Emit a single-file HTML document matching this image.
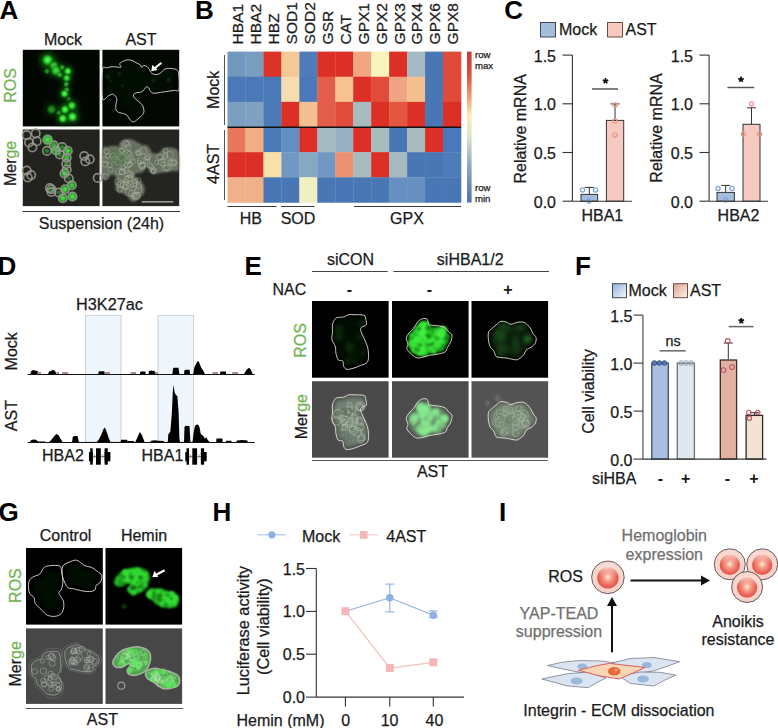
<!DOCTYPE html>
<html><head><meta charset="utf-8"><style>
html,body{margin:0;padding:0;background:#fff;}
svg{display:block;}
text{font-family:"Liberation Sans",sans-serif;}
</style></head><body>
<svg width="778" height="728" viewBox="0 0 778 728">
<defs>
<filter id="b1" x="-50%" y="-50%" width="200%" height="200%"><feGaussianBlur stdDeviation="1.2"/></filter>
<filter id="b2" x="-50%" y="-50%" width="200%" height="200%"><feGaussianBlur stdDeviation="2"/></filter>
<filter id="b3" x="-50%" y="-50%" width="200%" height="200%"><feGaussianBlur stdDeviation="3"/></filter>
<filter id="b05" x="-50%" y="-50%" width="200%" height="200%"><feGaussianBlur stdDeviation="0.6"/></filter>
<radialGradient id="gblob"><stop offset="0" stop-color="#66ff66"/><stop offset="0.45" stop-color="#2ed82e"/><stop offset="0.8" stop-color="#128a12" stop-opacity="0.7"/><stop offset="1" stop-color="#0a400a" stop-opacity="0"/></radialGradient>
<linearGradient id="cbar" x1="0" y1="0" x2="0" y2="1">
<stop offset="0" stop-color="#c83c3a"/><stop offset="0.15" stop-color="#dc4a3c"/><stop offset="0.3" stop-color="#f0a074"/><stop offset="0.43" stop-color="#f8f0b8"/><stop offset="0.56" stop-color="#dce6c8"/><stop offset="0.75" stop-color="#92aac2"/><stop offset="1" stop-color="#5272aa"/>
</linearGradient>
<linearGradient id="gmock" x1="0" y1="0" x2="1" y2="1"><stop offset="0.1" stop-color="#9ab8e0"/><stop offset="0.9" stop-color="#eaf2fa"/></linearGradient>
<linearGradient id="gast" x1="0" y1="0" x2="1" y2="1"><stop offset="0.1" stop-color="#e2ab98"/><stop offset="0.9" stop-color="#f8ebe2"/></linearGradient>
<radialGradient id="cell" cx="0.5" cy="0.5" r="0.55" fx="0.5" fy="0.45"><stop offset="0" stop-color="#fdecd4"/><stop offset="0.35" stop-color="#f49a86"/><stop offset="0.8" stop-color="#e95a50"/><stop offset="1" stop-color="#e65248"/></radialGradient>
<linearGradient id="celltop" x1="0" y1="0" x2="0" y2="1"><stop offset="0" stop-color="#fbe0d8" stop-opacity="0.85"/><stop offset="0.45" stop-color="#f6c0b0" stop-opacity="0"/></linearGradient>
<radialGradient id="ring" cx="0.5" cy="0.4" r="0.6"><stop offset="0" stop-color="#fbe4dc"/><stop offset="1" stop-color="#f6cfc6"/></radialGradient>
</defs>
<text x="-0.6" y="18.9" font-size="26" text-anchor="start" fill="#000" stroke="#000" stroke-width="0" font-weight="bold" >A</text>
<text x="194.9" y="18.9" font-size="26" text-anchor="start" fill="#000" stroke="#000" stroke-width="0" font-weight="bold" >B</text>
<text x="504.2" y="18.8" font-size="26" text-anchor="start" fill="#000" stroke="#000" stroke-width="0" font-weight="bold" >C</text>
<text x="-2.4" y="274.7" font-size="26" text-anchor="start" fill="#000" stroke="#000" stroke-width="0" font-weight="bold" >D</text>
<text x="244.4" y="275.1" font-size="26" text-anchor="start" fill="#000" stroke="#000" stroke-width="0" font-weight="bold" >E</text>
<text x="575.0" y="275.1" font-size="26" text-anchor="start" fill="#000" stroke="#000" stroke-width="0" font-weight="bold" >F</text>
<text x="-1.4" y="521.0" font-size="26" text-anchor="start" fill="#000" stroke="#000" stroke-width="0" font-weight="bold" >G</text>
<text x="212.5" y="520.9" font-size="26" text-anchor="start" fill="#000" stroke="#000" stroke-width="0" font-weight="bold" >H</text>
<text x="499.1" y="521.0" font-size="26" text-anchor="start" fill="#000" stroke="#000" stroke-width="0" font-weight="bold" >I</text>
<text x="63" y="44.5" font-size="16" text-anchor="middle" fill="#1a1a1a" stroke="#1a1a1a" stroke-width="0.25" font-weight="normal" >Mock</text>
<text x="141" y="44.5" font-size="16" text-anchor="middle" fill="#1a1a1a" stroke="#1a1a1a" stroke-width="0.25" font-weight="normal" >AST</text>
<text transform="translate(16.4,85.4) rotate(-90)" font-size="16" text-anchor="middle" fill="#70b452" stroke="#70b452" stroke-width="0.25" >ROS</text>
<text transform="translate(16.4,163.4) rotate(-90)" font-size="16" text-anchor="middle" fill="#1a1a1a" stroke="#1a1a1a" stroke-width="0.25" >Mer<tspan fill="#70b452" stroke="#70b452">ge</tspan></text>
<line x1="22.5" y1="211.5" x2="180" y2="211.5" stroke="#333" stroke-width="1"/>
<text x="101.5" y="229" font-size="16" text-anchor="middle" fill="#1a1a1a" stroke="#1a1a1a" stroke-width="0.25" font-weight="normal" >Suspension (24h)</text>
<rect x="22.8" y="49.8" width="76.8" height="76.6" fill="#020702"/>
<g filter="url(#b2)">
<circle cx="47.6" cy="60.0" r="8.8" fill="#0e5a0e" fill-opacity="0.70"/>
<circle cx="53.8" cy="65.6" r="7.2" fill="#0e5a0e" fill-opacity="0.52"/>
<circle cx="56.0" cy="70.6" r="8.0" fill="#0e5a0e" fill-opacity="0.56"/>
<circle cx="47.0" cy="71.19999999999999" r="4.5" fill="#0e5a0e" fill-opacity="0.35"/>
<circle cx="62.2" cy="67.3" r="4.5" fill="#0e5a0e" fill-opacity="0.39"/>
<circle cx="67.8" cy="71.19999999999999" r="6.1" fill="#0e5a0e" fill-opacity="0.70"/>
<circle cx="66.7" cy="78.0" r="6.1" fill="#0e5a0e" fill-opacity="0.59"/>
<circle cx="66.2" cy="84.19999999999999" r="4.5" fill="#0e5a0e" fill-opacity="0.42"/>
<circle cx="66.7" cy="89.8" r="4.5" fill="#0e5a0e" fill-opacity="0.42"/>
<circle cx="64.5" cy="93.69999999999999" r="6.1" fill="#0e5a0e" fill-opacity="0.70"/>
<circle cx="51.5" cy="109.5" r="7.2" fill="#0e5a0e" fill-opacity="0.35"/>
<circle cx="65.0" cy="109.5" r="6.9" fill="#0e5a0e" fill-opacity="0.70"/>
<circle cx="71.8" cy="105.6" r="6.9" fill="#0e5a0e" fill-opacity="0.63"/>
<circle cx="62.8" cy="118.5" r="6.9" fill="#0e5a0e" fill-opacity="0.70"/>
<circle cx="72.4" cy="116.8" r="7.7" fill="#0e5a0e" fill-opacity="0.70"/>
<circle cx="58.8" cy="112.8" r="4.0" fill="#0e5a0e" fill-opacity="0.32"/>
<circle cx="68.8" cy="98.8" r="4.0" fill="#0e5a0e" fill-opacity="0.24"/>
<circle cx="59.8" cy="74.8" r="4.8" fill="#0e5a0e" fill-opacity="0.39"/>
</g>
<circle cx="47.6" cy="60.0" r="6.3" fill="url(#gblob)" fill-opacity="1"/>
<circle cx="53.8" cy="65.6" r="5.2" fill="url(#gblob)" fill-opacity="0.75"/>
<circle cx="56.0" cy="70.6" r="5.8" fill="url(#gblob)" fill-opacity="0.8"/>
<circle cx="47.0" cy="71.19999999999999" r="3.2" fill="url(#gblob)" fill-opacity="0.5"/>
<circle cx="62.2" cy="67.3" r="3.2" fill="url(#gblob)" fill-opacity="0.55"/>
<circle cx="67.8" cy="71.19999999999999" r="4.4" fill="url(#gblob)" fill-opacity="1"/>
<circle cx="66.7" cy="78.0" r="4.4" fill="url(#gblob)" fill-opacity="0.85"/>
<circle cx="66.2" cy="84.19999999999999" r="3.2" fill="url(#gblob)" fill-opacity="0.6"/>
<circle cx="66.7" cy="89.8" r="3.2" fill="url(#gblob)" fill-opacity="0.6"/>
<circle cx="64.5" cy="93.69999999999999" r="4.4" fill="url(#gblob)" fill-opacity="1"/>
<circle cx="51.5" cy="109.5" r="5.2" fill="url(#gblob)" fill-opacity="0.5"/>
<circle cx="65.0" cy="109.5" r="4.9" fill="url(#gblob)" fill-opacity="1"/>
<circle cx="71.8" cy="105.6" r="4.9" fill="url(#gblob)" fill-opacity="0.9"/>
<circle cx="62.8" cy="118.5" r="4.9" fill="url(#gblob)" fill-opacity="1"/>
<circle cx="72.4" cy="116.8" r="5.5" fill="url(#gblob)" fill-opacity="1"/>
<circle cx="58.8" cy="112.8" r="2.9" fill="url(#gblob)" fill-opacity="0.45"/>
<circle cx="68.8" cy="98.8" r="2.9" fill="url(#gblob)" fill-opacity="0.35"/>
<circle cx="59.8" cy="74.8" r="3.4" fill="url(#gblob)" fill-opacity="0.55"/>
<rect x="102.4" y="49.8" width="76.8" height="76.6" fill="#030803"/>
<g filter="url(#b3)"><path d="M108.0,72.4 C108.6,68.1 110.1,71.0 111.7,70.5 C113.2,70.0 115.4,69.6 117.3,69.6 C119.3,69.5 122.8,70.5 123.6,70.1 C124.5,69.7 122.4,68.0 122.6,67.2 C122.8,66.4 124.0,65.8 125.0,65.2 C126.0,64.7 127.5,63.9 128.8,63.8 C130.2,63.6 131.7,63.8 133.2,64.3 C134.6,64.8 136.3,66.0 137.5,66.7 C138.7,67.3 139.8,67.5 140.4,68.1 C140.9,68.7 140.3,70.0 140.8,70.1 C141.3,70.2 142.4,68.7 143.3,68.6 C144.2,68.5 145.3,69.0 146.1,69.6 C146.9,70.1 147.6,71.1 148.0,71.9 C148.5,72.7 148.5,73.7 149.0,74.3 C149.5,75.0 150.0,75.4 150.9,75.8 C151.8,76.1 153.1,76.4 154.2,76.3 C155.3,76.1 156.5,75.6 157.6,74.8 C158.6,74.1 159.3,72.6 160.4,71.9 C161.6,71.3 162.8,71.1 164.3,71.0 C165.7,70.9 167.8,71.1 169.1,71.4 C170.4,71.7 171.3,72.0 171.9,72.9 C172.6,73.8 172.8,74.0 172.9,76.7 C173.1,79.4 173.6,87.0 172.9,89.2 C172.3,91.4 171.4,89.4 169.1,89.7 C166.9,90.0 162.4,90.7 159.5,91.1 C156.6,91.5 153.6,92.2 151.9,92.1 C150.1,92.0 149.8,91.4 149.0,90.6 C148.2,89.8 147.7,87.9 147.1,87.2 C146.5,86.6 145.8,86.5 145.1,86.8 C144.5,87.1 143.9,88.5 143.3,89.2 C142.6,89.9 142.3,90.7 141.3,91.1 C140.4,91.5 138.6,91.2 137.5,91.6 C136.4,91.9 135.0,92.3 134.6,93.0 C134.2,93.7 134.3,94.8 135.1,95.9 C135.9,97.0 138.3,98.6 139.4,99.7 C140.6,100.9 141.6,101.3 142.3,102.6 C142.9,104.0 143.4,106.5 143.3,107.9 C143.1,109.3 142.2,110.2 141.3,111.2 C140.4,112.2 139.1,113.2 138.0,114.1 C136.9,115.0 135.6,116.3 134.6,116.5 C133.6,116.6 132.8,116.0 131.8,115.0 C130.8,114.1 130.0,111.7 128.8,110.7 C127.7,109.7 126.4,109.8 125.0,109.3 C123.6,108.7 121.2,108.5 120.2,107.4 C119.3,106.3 119.3,104.4 119.3,102.6 C119.3,100.9 120.6,98.4 120.2,96.8 C119.9,95.2 118.5,93.5 117.3,93.0 C116.2,92.5 115.1,93.4 113.5,94.0 C112.0,94.5 108.9,99.9 108.0,96.3 C107.1,92.7 107.4,76.8 108.0,72.4Z" fill="#051005"/></g>
<circle cx="107.4" cy="76.8" r="3" fill="url(#gblob)" fill-opacity="0.12"/>
<circle cx="119.4" cy="73.8" r="2.5" fill="url(#gblob)" fill-opacity="0.12"/>
<circle cx="122.4" cy="85.8" r="2" fill="url(#gblob)" fill-opacity="0.12"/>
<circle cx="111.4" cy="80.8" r="2" fill="url(#gblob)" fill-opacity="0.12"/>
<circle cx="168.4" cy="79.8" r="3" fill="url(#gblob)" fill-opacity="0.12"/>
<circle cx="153.4" cy="80.8" r="3" fill="url(#gblob)" fill-opacity="0.12"/>
<path d="M102.4,70.1 C103.1,65.0 104.9,68.4 106.7,67.8 C108.5,67.2 111.1,66.8 113.4,66.7 C115.8,66.6 119.8,67.8 120.8,67.3 C121.8,66.8 119.3,64.8 119.6,63.9 C119.9,62.9 121.2,62.3 122.4,61.6 C123.6,60.9 125.3,60.1 126.9,59.9 C128.5,59.7 130.3,59.9 132.0,60.5 C133.7,61.1 135.7,62.5 137.1,63.3 C138.5,64.0 139.8,64.3 140.5,65.0 C141.2,65.7 140.4,67.2 141.0,67.3 C141.6,67.4 142.9,65.7 143.9,65.6 C144.9,65.5 146.3,66.0 147.2,66.7 C148.1,67.3 148.9,68.6 149.5,69.5 C150.1,70.4 150.0,71.5 150.6,72.3 C151.2,73.0 151.9,73.6 152.9,74.0 C153.9,74.4 155.5,74.8 156.8,74.6 C158.1,74.4 159.5,73.8 160.7,72.9 C161.9,72.1 162.8,70.2 164.1,69.5 C165.4,68.8 166.9,68.5 168.6,68.4 C170.3,68.3 172.8,68.5 174.3,68.9 C175.8,69.3 176.9,69.6 177.6,70.6 C178.4,71.6 178.6,71.9 178.8,75.1 C179.0,78.3 179.6,87.2 178.8,89.8 C178.1,92.3 176.9,90.0 174.3,90.4 C171.7,90.8 166.4,91.5 163.0,92.0 C159.6,92.5 156.1,93.3 154.0,93.2 C151.9,93.1 151.5,92.5 150.6,91.5 C149.7,90.5 149.2,88.2 148.4,87.5 C147.7,86.8 146.9,86.6 146.1,87.0 C145.4,87.4 144.7,89.0 143.9,89.8 C143.2,90.6 142.7,91.5 141.6,92.0 C140.5,92.5 138.4,92.2 137.1,92.6 C135.8,93.0 134.2,93.5 133.7,94.3 C133.2,95.1 133.4,96.4 134.3,97.7 C135.2,99.0 138.0,100.9 139.4,102.2 C140.8,103.5 141.9,104.0 142.7,105.6 C143.4,107.2 144.1,110.1 143.9,111.8 C143.7,113.5 142.6,114.5 141.6,115.7 C140.6,116.9 139.0,118.1 137.7,119.1 C136.4,120.1 134.9,121.7 133.7,121.9 C132.5,122.1 131.5,121.3 130.4,120.2 C129.3,119.1 128.2,116.2 126.9,115.1 C125.6,114.0 124.1,114.1 122.4,113.4 C120.7,112.8 117.9,112.5 116.8,111.2 C115.7,109.9 115.7,107.7 115.7,105.6 C115.7,103.5 117.2,100.7 116.8,98.8 C116.4,96.9 114.7,94.9 113.4,94.3 C112.1,93.7 110.7,94.8 108.9,95.4 C107.1,96.1 103.5,102.4 102.4,98.2 C101.3,94.0 101.7,75.2 102.4,70.1Z" fill="none" stroke="#d8d8d0" stroke-width="0.9"/>
<line x1="161.4" y1="62.699999999999996" x2="154.2" y2="68.69999999999999" stroke="#fff" stroke-width="2"/>
<path d="M151.2,71.19999999999999 l1.2,-6.5 l5.3,5.3 z" fill="#fff"/>
<rect x="22.8" y="129.5" width="76.8" height="76.6" fill="#22231f"/>
<circle cx="47.6" cy="139.7" r="6.6" fill="url(#gblob)" fill-opacity="0.85"/>
<circle cx="53.8" cy="145.3" r="5.4" fill="url(#gblob)" fill-opacity="0.64"/>
<circle cx="56.0" cy="150.3" r="6.0" fill="url(#gblob)" fill-opacity="0.68"/>
<circle cx="47.0" cy="150.9" r="3.4" fill="url(#gblob)" fill-opacity="0.42"/>
<circle cx="62.2" cy="147.0" r="3.4" fill="url(#gblob)" fill-opacity="0.47"/>
<circle cx="67.8" cy="150.9" r="4.6" fill="url(#gblob)" fill-opacity="0.85"/>
<circle cx="66.7" cy="157.7" r="4.6" fill="url(#gblob)" fill-opacity="0.72"/>
<circle cx="66.2" cy="163.9" r="3.4" fill="url(#gblob)" fill-opacity="0.51"/>
<circle cx="66.7" cy="169.5" r="3.4" fill="url(#gblob)" fill-opacity="0.51"/>
<circle cx="64.5" cy="173.4" r="4.6" fill="url(#gblob)" fill-opacity="0.85"/>
<circle cx="51.5" cy="189.2" r="5.4" fill="url(#gblob)" fill-opacity="0.42"/>
<circle cx="65.0" cy="189.2" r="5.2" fill="url(#gblob)" fill-opacity="0.85"/>
<circle cx="71.8" cy="185.3" r="5.2" fill="url(#gblob)" fill-opacity="0.77"/>
<circle cx="62.8" cy="198.2" r="5.2" fill="url(#gblob)" fill-opacity="0.85"/>
<circle cx="72.4" cy="196.5" r="5.8" fill="url(#gblob)" fill-opacity="0.85"/>
<circle cx="58.8" cy="192.5" r="3.0" fill="url(#gblob)" fill-opacity="0.38"/>
<circle cx="68.8" cy="178.5" r="3.0" fill="url(#gblob)" fill-opacity="0.30"/>
<circle cx="59.8" cy="154.5" r="3.6" fill="url(#gblob)" fill-opacity="0.47"/>
<g filter="url(#b05)" fill="none" stroke="#9a9a92" stroke-width="1.7" stroke-opacity="0.85">
<circle cx="26.7" cy="135.1" r="4.2"/>
<circle cx="35.7" cy="133.4" r="4.2"/>
<circle cx="29.0" cy="142.5" r="4.2"/>
<circle cx="36.8" cy="141.3" r="4.2"/>
<circle cx="32.4" cy="147.5" r="4.2"/>
<circle cx="84.2" cy="156.0" r="4.2"/>
<circle cx="89.8" cy="159.3" r="4.2"/>
<circle cx="85.3" cy="161.5" r="4.2"/>
<circle cx="26.7" cy="170.5" r="4.2"/>
<circle cx="31.200000000000003" cy="175.1" r="4.2"/>
<circle cx="27.8" cy="177.4" r="4.2"/>
<circle cx="49.8" cy="188.1" r="4.2"/>
<circle cx="51.5" cy="192.0" r="4.2"/>
<circle cx="97.7" cy="177.9" r="4.2"/>
<circle cx="47.6" cy="139.7" r="4.2"/>
<circle cx="53.8" cy="145.3" r="4.2"/>
<circle cx="56.0" cy="150.3" r="4.2"/>
<circle cx="47.0" cy="150.9" r="4.2"/>
<circle cx="62.2" cy="147.0" r="4.2"/>
<circle cx="67.8" cy="150.9" r="4.2"/>
<circle cx="66.7" cy="157.7" r="4.2"/>
<circle cx="66.2" cy="163.9" r="4.2"/>
<circle cx="66.7" cy="169.5" r="4.2"/>
<circle cx="64.5" cy="173.4" r="4.2"/>
<circle cx="51.5" cy="189.2" r="4.2"/>
<circle cx="65.0" cy="189.2" r="4.2"/>
<circle cx="71.8" cy="185.3" r="4.2"/>
<circle cx="62.8" cy="198.2" r="4.2"/>
<circle cx="72.4" cy="196.5" r="4.2"/>
<circle cx="58.8" cy="192.5" r="4.2"/>
<circle cx="68.8" cy="178.5" r="4.2"/>
<circle cx="59.8" cy="154.5" r="4.2"/>
</g>
<rect x="102.4" y="129.5" width="76.8" height="76.6" fill="#242521"/>
<g filter="url(#b1)"><path d="M103.1,150.1 C103.8,145.1 105.6,148.4 107.4,147.9 C109.2,147.3 111.6,146.9 113.9,146.8 C116.2,146.7 120.2,147.8 121.2,147.4 C122.2,146.9 119.7,145.0 120.0,144.0 C120.3,143.1 121.6,142.4 122.7,141.8 C123.9,141.1 125.6,140.3 127.2,140.1 C128.7,139.9 130.5,140.1 132.2,140.7 C133.8,141.3 135.8,142.7 137.2,143.4 C138.5,144.2 139.8,144.5 140.5,145.1 C141.1,145.8 140.4,147.3 141.0,147.4 C141.5,147.5 142.8,145.8 143.8,145.7 C144.8,145.6 146.1,146.1 147.1,146.8 C148.0,147.4 148.7,148.6 149.3,149.5 C149.9,150.4 149.8,151.5 150.4,152.3 C150.9,153.0 151.6,153.6 152.6,153.9 C153.6,154.3 155.2,154.7 156.5,154.5 C157.7,154.3 159.1,153.7 160.3,152.9 C161.5,152.0 162.3,150.3 163.6,149.5 C164.9,148.8 166.4,148.5 168.0,148.4 C169.7,148.3 172.1,148.6 173.6,148.9 C175.1,149.3 176.1,149.6 176.8,150.6 C177.6,151.6 177.8,151.9 178.0,155.0 C178.2,158.1 178.8,166.9 178.0,169.4 C177.3,171.9 176.2,169.6 173.6,170.0 C171.0,170.4 165.9,171.1 162.5,171.6 C159.2,172.0 155.7,172.8 153.7,172.8 C151.7,172.7 151.3,172.0 150.4,171.1 C149.5,170.2 149.0,167.9 148.2,167.2 C147.5,166.4 146.7,166.3 146.0,166.7 C145.2,167.1 144.6,168.6 143.8,169.4 C143.1,170.2 142.7,171.1 141.6,171.6 C140.5,172.0 138.4,171.8 137.2,172.2 C135.9,172.5 134.3,173.0 133.8,173.8 C133.4,174.7 133.5,175.9 134.4,177.2 C135.3,178.5 138.0,180.3 139.4,181.6 C140.8,182.9 141.9,183.3 142.6,184.9 C143.4,186.5 144.0,189.3 143.8,191.0 C143.6,192.6 142.6,193.6 141.6,194.8 C140.5,196.0 139.0,197.1 137.7,198.1 C136.5,199.1 135.0,200.7 133.8,200.9 C132.6,201.1 131.7,200.3 130.6,199.2 C129.5,198.1 128.5,195.3 127.2,194.2 C125.8,193.1 124.4,193.2 122.7,192.5 C121.1,191.9 118.4,191.7 117.3,190.4 C116.2,189.1 116.2,186.9 116.2,184.9 C116.2,182.9 117.6,180.1 117.3,178.2 C116.9,176.4 115.2,174.4 113.9,173.8 C112.6,173.3 111.3,174.3 109.5,174.9 C107.7,175.5 104.2,181.8 103.1,177.7 C102.1,173.5 102.4,155.1 103.1,150.1Z" fill="#66705f" stroke="#8a9084" stroke-width="2" stroke-opacity="0.6"/></g>
<g filter="url(#b05)" fill="none" stroke="#b4baa8" stroke-width="1.0" stroke-opacity="0.45">
<circle cx="121.8" cy="172.2" r="2.6"/>
<circle cx="165.5" cy="155.1" r="2.4"/>
<circle cx="165.5" cy="168.1" r="3.0"/>
<circle cx="147.6" cy="157.6" r="2.0"/>
<circle cx="167.6" cy="167.9" r="3.2"/>
<circle cx="171.6" cy="163.2" r="3.3"/>
<circle cx="136.9" cy="195.6" r="3.4"/>
<circle cx="126.4" cy="169.9" r="2.6"/>
<circle cx="130.0" cy="174.6" r="2.9"/>
<circle cx="119.8" cy="189.4" r="2.9"/>
<circle cx="125.2" cy="143.3" r="3.4"/>
<circle cx="162.8" cy="164.1" r="2.2"/>
<circle cx="125.9" cy="185.6" r="3.4"/>
<circle cx="128.6" cy="192.4" r="3.6"/>
<circle cx="127.0" cy="144.1" r="3.0"/>
<circle cx="106.7" cy="151.3" r="2.7"/>
<circle cx="169.9" cy="162.2" r="2.7"/>
<circle cx="141.4" cy="165.4" r="3.2"/>
<circle cx="121.7" cy="157.6" r="3.6"/>
<circle cx="105.2" cy="164.4" r="2.9"/>
<circle cx="105.9" cy="176.4" r="3.0"/>
<circle cx="138.4" cy="180.3" r="2.6"/>
<circle cx="122.7" cy="166.9" r="2.9"/>
<circle cx="127.8" cy="161.3" r="2.5"/>
<circle cx="131.3" cy="175.2" r="2.5"/>
<circle cx="131.9" cy="185.8" r="2.0"/>
<circle cx="127.0" cy="152.9" r="3.3"/>
<circle cx="121.8" cy="150.7" r="2.7"/>
<circle cx="127.9" cy="159.5" r="3.3"/>
<circle cx="136.4" cy="190.8" r="2.3"/>
<circle cx="129.0" cy="178.5" r="3.4"/>
<circle cx="137.3" cy="153.0" r="2.2"/>
<circle cx="143.1" cy="150.9" r="3.3"/>
<circle cx="165.6" cy="150.5" r="2.4"/>
<circle cx="163.3" cy="160.2" r="2.2"/>
<circle cx="125.7" cy="187.1" r="2.4"/>
<circle cx="129.7" cy="164.5" r="2.7"/>
<circle cx="134.3" cy="194.7" r="2.2"/>
<circle cx="136.1" cy="196.5" r="3.5"/>
<circle cx="120.6" cy="184.2" r="3.3"/>
<circle cx="152.8" cy="170.6" r="2.5"/>
<circle cx="129.3" cy="153.1" r="2.1"/>
<circle cx="147.4" cy="156.7" r="3.3"/>
<circle cx="126.3" cy="179.3" r="2.8"/>
<circle cx="134.6" cy="195.8" r="3.0"/>
<circle cx="129.3" cy="154.6" r="3.4"/>
<circle cx="139.2" cy="186.4" r="2.6"/>
<circle cx="118.8" cy="171.6" r="3.3"/>
<circle cx="108.0" cy="155.8" r="2.4"/>
<circle cx="142.9" cy="164.9" r="2.8"/>
<circle cx="110.7" cy="169.6" r="2.5"/>
<circle cx="127.4" cy="160.6" r="3.0"/>
<circle cx="147.2" cy="161.2" r="2.3"/>
<circle cx="128.4" cy="146.9" r="2.9"/>
<circle cx="156.7" cy="162.3" r="2.1"/>
<circle cx="117.4" cy="161.9" r="3.0"/>
<circle cx="161.5" cy="162.3" r="3.3"/>
<circle cx="149.9" cy="165.4" r="2.6"/>
<circle cx="135.1" cy="181.1" r="2.7"/>
<circle cx="122.3" cy="171.7" r="3.1"/>
<circle cx="109.6" cy="165.0" r="2.7"/>
<circle cx="131.7" cy="193.4" r="3.3"/>
<circle cx="123.5" cy="167.3" r="2.2"/>
<circle cx="128.1" cy="173.3" r="3.3"/>
<circle cx="122.1" cy="150.3" r="2.4"/>
<circle cx="133.1" cy="161.5" r="2.6"/>
<circle cx="130.0" cy="164.6" r="2.1"/>
<circle cx="134.5" cy="184.3" r="2.3"/>
<circle cx="153.6" cy="170.5" r="2.8"/>
<circle cx="142.2" cy="166.1" r="3.2"/>
<circle cx="118.0" cy="155.5" r="2.3"/>
<circle cx="147.2" cy="158.4" r="2.4"/>
<circle cx="126.0" cy="181.8" r="2.7"/>
<circle cx="123.9" cy="152.6" r="2.0"/>
<circle cx="139.4" cy="162.5" r="2.3"/>
<circle cx="130.7" cy="158.8" r="3.2"/>
<circle cx="138.6" cy="189.6" r="3.3"/>
<circle cx="133.6" cy="183.5" r="3.5"/>
<circle cx="138.5" cy="153.3" r="2.4"/>
<circle cx="122.1" cy="150.9" r="2.4"/>
<circle cx="118.1" cy="181.8" r="3.4"/>
<circle cx="170.1" cy="154.8" r="3.4"/>
<circle cx="127.3" cy="164.9" r="3.2"/>
<circle cx="165.3" cy="157.0" r="2.6"/>
<circle cx="104.9" cy="159.6" r="2.7"/>
<circle cx="139.9" cy="152.1" r="2.9"/>
<circle cx="174.1" cy="163.0" r="2.9"/>
<circle cx="113.1" cy="156.0" r="3.1"/>
<circle cx="173.1" cy="162.0" r="3.2"/>
<circle cx="159.7" cy="157.2" r="3.1"/>
<circle cx="123.8" cy="184.8" r="3.5"/>
<circle cx="153.5" cy="171.7" r="2.2"/>
<circle cx="140.5" cy="160.6" r="3.1"/>
<circle cx="114.7" cy="159.4" r="3.2"/>
<circle cx="151.7" cy="167.0" r="2.5"/>
</g>
<g filter="url(#b2)"><ellipse cx="120.4" cy="157.5" rx="10" ry="8" fill="#4a7a48" fill-opacity="0.45"/></g>
<line x1="141.8" y1="201.9" x2="173.4" y2="201.9" stroke="#ddd" stroke-width="1"/>
<rect x="227.50" y="51.60" width="18.26" height="25.44" fill="#7398c0"/>
<rect x="245.46" y="51.60" width="18.26" height="25.44" fill="#7a9ec0"/>
<rect x="263.42" y="51.60" width="18.26" height="25.44" fill="#dd3228"/>
<rect x="281.38" y="51.60" width="18.26" height="25.44" fill="#f6c896"/>
<rect x="299.34" y="51.60" width="18.26" height="25.44" fill="#4d7cb9"/>
<rect x="317.30" y="51.60" width="18.26" height="25.44" fill="#dc3027"/>
<rect x="335.26" y="51.60" width="18.26" height="25.44" fill="#dc3027"/>
<rect x="353.22" y="51.60" width="18.26" height="25.44" fill="#f2a680"/>
<rect x="371.18" y="51.60" width="18.26" height="25.44" fill="#f7f3bd"/>
<rect x="389.14" y="51.60" width="18.26" height="25.44" fill="#dc3027"/>
<rect x="407.10" y="51.60" width="18.26" height="25.44" fill="#a5b9c2"/>
<rect x="425.06" y="51.60" width="18.26" height="25.44" fill="#4977b6"/>
<rect x="443.02" y="51.60" width="18.26" height="25.44" fill="#e04a3a"/>
<rect x="227.50" y="76.74" width="18.26" height="25.44" fill="#4a78b8"/>
<rect x="245.46" y="76.74" width="18.26" height="25.44" fill="#4a78b8"/>
<rect x="263.42" y="76.74" width="18.26" height="25.44" fill="#4a79b8"/>
<rect x="281.38" y="76.74" width="18.26" height="25.44" fill="#f7ddb0"/>
<rect x="299.34" y="76.74" width="18.26" height="25.44" fill="#4a78b8"/>
<rect x="317.30" y="76.74" width="18.26" height="25.44" fill="#e35d48"/>
<rect x="335.26" y="76.74" width="18.26" height="25.44" fill="#f5c290"/>
<rect x="353.22" y="76.74" width="18.26" height="25.44" fill="#dc3027"/>
<rect x="371.18" y="76.74" width="18.26" height="25.44" fill="#e14b3c"/>
<rect x="389.14" y="76.74" width="18.26" height="25.44" fill="#efa484"/>
<rect x="407.10" y="76.74" width="18.26" height="25.44" fill="#f4c08f"/>
<rect x="425.06" y="76.74" width="18.26" height="25.44" fill="#4977b6"/>
<rect x="443.02" y="76.74" width="18.26" height="25.44" fill="#e04a3a"/>
<rect x="227.50" y="101.88" width="18.26" height="25.44" fill="#7a9fc0"/>
<rect x="245.46" y="101.88" width="18.26" height="25.44" fill="#80a2c0"/>
<rect x="263.42" y="101.88" width="18.26" height="25.44" fill="#4b7ab8"/>
<rect x="281.38" y="101.88" width="18.26" height="25.44" fill="#dc3027"/>
<rect x="299.34" y="101.88" width="18.26" height="25.44" fill="#f5c090"/>
<rect x="317.30" y="101.88" width="18.26" height="25.44" fill="#e35d48"/>
<rect x="335.26" y="101.88" width="18.26" height="25.44" fill="#e24c3d"/>
<rect x="353.22" y="101.88" width="18.26" height="25.44" fill="#a8bcbe"/>
<rect x="371.18" y="101.88" width="18.26" height="25.44" fill="#dc3027"/>
<rect x="389.14" y="101.88" width="18.26" height="25.44" fill="#e3573f"/>
<rect x="407.10" y="101.88" width="18.26" height="25.44" fill="#dc3027"/>
<rect x="425.06" y="101.88" width="18.26" height="25.44" fill="#4977b6"/>
<rect x="443.02" y="101.88" width="18.26" height="25.44" fill="#dc3027"/>
<rect x="227.50" y="127.02" width="18.26" height="25.44" fill="#e9765c"/>
<rect x="245.46" y="127.02" width="18.26" height="25.44" fill="#f1ae85"/>
<rect x="263.42" y="127.02" width="18.26" height="25.44" fill="#4b7ab8"/>
<rect x="281.38" y="127.02" width="18.26" height="25.44" fill="#6390c2"/>
<rect x="299.34" y="127.02" width="18.26" height="25.44" fill="#dc3027"/>
<rect x="317.30" y="127.02" width="18.26" height="25.44" fill="#a5bac2"/>
<rect x="335.26" y="127.02" width="18.26" height="25.44" fill="#97b0c4"/>
<rect x="353.22" y="127.02" width="18.26" height="25.44" fill="#dc3027"/>
<rect x="371.18" y="127.02" width="18.26" height="25.44" fill="#a8bcbe"/>
<rect x="389.14" y="127.02" width="18.26" height="25.44" fill="#4977b6"/>
<rect x="407.10" y="127.02" width="18.26" height="25.44" fill="#a8bcbe"/>
<rect x="425.06" y="127.02" width="18.26" height="25.44" fill="#dc3027"/>
<rect x="443.02" y="127.02" width="18.26" height="25.44" fill="#4a78b8"/>
<rect x="227.50" y="152.16" width="18.26" height="25.44" fill="#dc3027"/>
<rect x="245.46" y="152.16" width="18.26" height="25.44" fill="#dc3027"/>
<rect x="263.42" y="152.16" width="18.26" height="25.44" fill="#f8e1a8"/>
<rect x="281.38" y="152.16" width="18.26" height="25.44" fill="#6f99c2"/>
<rect x="299.34" y="152.16" width="18.26" height="25.44" fill="#87a8c2"/>
<rect x="317.30" y="152.16" width="18.26" height="25.44" fill="#6f99c2"/>
<rect x="335.26" y="152.16" width="18.26" height="25.44" fill="#ec9272"/>
<rect x="353.22" y="152.16" width="18.26" height="25.44" fill="#a8bcbe"/>
<rect x="371.18" y="152.16" width="18.26" height="25.44" fill="#dc3027"/>
<rect x="389.14" y="152.16" width="18.26" height="25.44" fill="#a5bac0"/>
<rect x="407.10" y="152.16" width="18.26" height="25.44" fill="#4977b6"/>
<rect x="425.06" y="152.16" width="18.26" height="25.44" fill="#4977b6"/>
<rect x="443.02" y="152.16" width="18.26" height="25.44" fill="#4e7cb9"/>
<rect x="227.50" y="177.30" width="18.26" height="25.44" fill="#f0b088"/>
<rect x="245.46" y="177.30" width="18.26" height="25.44" fill="#f0b088"/>
<rect x="263.42" y="177.30" width="18.26" height="25.44" fill="#4977b6"/>
<rect x="281.38" y="177.30" width="18.26" height="25.44" fill="#4977b6"/>
<rect x="299.34" y="177.30" width="18.26" height="25.44" fill="#eef0c2"/>
<rect x="317.30" y="177.30" width="18.26" height="25.44" fill="#4977b6"/>
<rect x="335.26" y="177.30" width="18.26" height="25.44" fill="#4977b6"/>
<rect x="353.22" y="177.30" width="18.26" height="25.44" fill="#4977b6"/>
<rect x="371.18" y="177.30" width="18.26" height="25.44" fill="#4977b6"/>
<rect x="389.14" y="177.30" width="18.26" height="25.44" fill="#6590c0"/>
<rect x="407.10" y="177.30" width="18.26" height="25.44" fill="#6590c0"/>
<rect x="425.06" y="177.30" width="18.26" height="25.44" fill="#4977b6"/>
<rect x="443.02" y="177.30" width="18.26" height="25.44" fill="#4977b6"/>
<line x1="227.5" y1="127.3" x2="461.0" y2="127.3" stroke="#111" stroke-width="1.6"/>
<text transform="translate(242.88,44.4) rotate(-90)" font-size="15.5" text-anchor="start" fill="#1a1a1a" stroke="#1a1a1a" stroke-width="0.25" >HBA1</text>
<text transform="translate(260.84,44.4) rotate(-90)" font-size="15.5" text-anchor="start" fill="#1a1a1a" stroke="#1a1a1a" stroke-width="0.25" >HBA2</text>
<text transform="translate(278.8,44.4) rotate(-90)" font-size="15.5" text-anchor="start" fill="#1a1a1a" stroke="#1a1a1a" stroke-width="0.25" >HBZ</text>
<text transform="translate(296.76,44.4) rotate(-90)" font-size="15.5" text-anchor="start" fill="#1a1a1a" stroke="#1a1a1a" stroke-width="0.25" >SOD1</text>
<text transform="translate(314.72,44.4) rotate(-90)" font-size="15.5" text-anchor="start" fill="#1a1a1a" stroke="#1a1a1a" stroke-width="0.25" >SOD2</text>
<text transform="translate(332.68,44.4) rotate(-90)" font-size="15.5" text-anchor="start" fill="#1a1a1a" stroke="#1a1a1a" stroke-width="0.25" >GSR</text>
<text transform="translate(350.64,44.4) rotate(-90)" font-size="15.5" text-anchor="start" fill="#1a1a1a" stroke="#1a1a1a" stroke-width="0.25" >CAT</text>
<text transform="translate(368.6,44.4) rotate(-90)" font-size="15.5" text-anchor="start" fill="#1a1a1a" stroke="#1a1a1a" stroke-width="0.25" >GPX1</text>
<text transform="translate(386.56,44.4) rotate(-90)" font-size="15.5" text-anchor="start" fill="#1a1a1a" stroke="#1a1a1a" stroke-width="0.25" >GPX2</text>
<text transform="translate(404.52,44.4) rotate(-90)" font-size="15.5" text-anchor="start" fill="#1a1a1a" stroke="#1a1a1a" stroke-width="0.25" >GPX3</text>
<text transform="translate(422.48,44.4) rotate(-90)" font-size="15.5" text-anchor="start" fill="#1a1a1a" stroke="#1a1a1a" stroke-width="0.25" >GPX4</text>
<text transform="translate(440.44,44.4) rotate(-90)" font-size="15.5" text-anchor="start" fill="#1a1a1a" stroke="#1a1a1a" stroke-width="0.25" >GPX6</text>
<text transform="translate(458.4,44.4) rotate(-90)" font-size="15.5" text-anchor="start" fill="#1a1a1a" stroke="#1a1a1a" stroke-width="0.25" >GPX8</text>
<line x1="224.5" y1="55" x2="224.5" y2="125" stroke="#555" stroke-width="1"/>
<line x1="224.5" y1="130" x2="224.5" y2="200" stroke="#555" stroke-width="1"/>
<text transform="translate(218.7,89.8) rotate(-90)" font-size="16" text-anchor="middle" fill="#1a1a1a" stroke="#1a1a1a" stroke-width="0.25" >Mock</text>
<text transform="translate(219.4,163.9) rotate(-90)" font-size="16" text-anchor="middle" fill="#1a1a1a" stroke="#1a1a1a" stroke-width="0.25" >4AST</text>
<rect x="467" y="51.6" width="4.6" height="150.9" fill="url(#cbar)"/>
<text x="475" y="57.8" font-size="9.6" text-anchor="start" fill="#1a1a1a" stroke="#1a1a1a" stroke-width="0.25" font-weight="normal" >row</text>
<text x="475" y="68.8" font-size="9.6" text-anchor="start" fill="#1a1a1a" stroke="#1a1a1a" stroke-width="0.25" font-weight="normal" >max</text>
<text x="475" y="190.8" font-size="9.6" text-anchor="start" fill="#1a1a1a" stroke="#1a1a1a" stroke-width="0.25" font-weight="normal" >row</text>
<text x="475" y="201.7" font-size="9.6" text-anchor="start" fill="#1a1a1a" stroke="#1a1a1a" stroke-width="0.25" font-weight="normal" >min</text>
<line x1="227.4" y1="206.5" x2="276.5" y2="206.5" stroke="#3a3a3a" stroke-width="1"/>
<line x1="281" y1="206.5" x2="314.5" y2="206.5" stroke="#3a3a3a" stroke-width="1"/>
<line x1="354" y1="206.5" x2="461" y2="206.5" stroke="#3a3a3a" stroke-width="1"/>
<text x="250.8" y="223.5" font-size="16" text-anchor="middle" fill="#1a1a1a" stroke="#1a1a1a" stroke-width="0.25" font-weight="normal" >HB</text>
<text x="298" y="223.5" font-size="16" text-anchor="middle" fill="#1a1a1a" stroke="#1a1a1a" stroke-width="0.25" font-weight="normal" >SOD</text>
<text x="407" y="223.5" font-size="16" text-anchor="middle" fill="#1a1a1a" stroke="#1a1a1a" stroke-width="0.25" font-weight="normal" >GPX</text>
<rect x="540.5" y="22.5" width="15" height="14.5" fill="#a6bcdb" stroke="#3f4b5c" stroke-width="1"/>
<text x="559" y="34.7" font-size="16" text-anchor="start" fill="#1a1a1a" stroke="#1a1a1a" stroke-width="0.25" font-weight="normal" >Mock</text>
<rect x="607.5" y="22.5" width="15" height="14.5" fill="#f7cabf" stroke="#6e4c46" stroke-width="1"/>
<text x="625.5" y="34.7" font-size="16" text-anchor="start" fill="#1a1a1a" stroke="#1a1a1a" stroke-width="0.25" font-weight="normal" >AST</text>
<rect x="581" y="194.4" width="16.6" height="6.8" fill="#a6bcdb" stroke="#333" stroke-width="1"/>
<rect x="606.4" y="120.4" width="17.3" height="80.8" fill="#f7cabf" stroke="#333" stroke-width="1"/>
<line x1="589.3" y1="194.4" x2="589.3" y2="187.4" stroke="#333" stroke-width="1"/><line x1="584.8" y1="187.4" x2="593.8" y2="187.4" stroke="#333" stroke-width="1"/>
<line x1="615.05" y1="120.4" x2="615.05" y2="103.9" stroke="#333" stroke-width="1"/><line x1="610.55" y1="103.9" x2="619.55" y2="103.9" stroke="#333" stroke-width="1"/>
<circle cx="582.5" cy="190" r="2.1" fill="none" stroke="#7fa6dc" stroke-width="1.3"/>
<circle cx="595.5" cy="190" r="2.1" fill="none" stroke="#7fa6dc" stroke-width="1.3"/>
<circle cx="589" cy="201" r="2.1" fill="none" stroke="#7fa6dc" stroke-width="1.3"/>
<circle cx="615" cy="105" r="2.1" fill="none" stroke="#e89a8c" stroke-width="1.3"/>
<circle cx="615" cy="121" r="2.1" fill="none" stroke="#e89a8c" stroke-width="1.3"/>
<circle cx="615" cy="135" r="2.1" fill="none" stroke="#e89a8c" stroke-width="1.3"/>
<line x1="572.4" y1="55.099999999999966" x2="572.4" y2="201.2" stroke="#333" stroke-width="1.1"/>
<line x1="572.4" y1="201.2" x2="632" y2="201.2" stroke="#333" stroke-width="1.1"/>
<line x1="562.5" y1="201.2" x2="572.4" y2="201.2" stroke="#333" stroke-width="1.1"/>
<text x="556.0" y="207.7" font-size="16" text-anchor="end" fill="#1a1a1a" stroke="#1a1a1a" stroke-width="0.25" font-weight="normal" >0.0</text>
<line x1="562.5" y1="152.5" x2="572.4" y2="152.5" stroke="#333" stroke-width="1.1"/>
<text x="556.0" y="159.0" font-size="16" text-anchor="end" fill="#1a1a1a" stroke="#1a1a1a" stroke-width="0.25" font-weight="normal" >0.5</text>
<line x1="562.5" y1="103.8" x2="572.4" y2="103.8" stroke="#333" stroke-width="1.1"/>
<text x="556.0" y="110.3" font-size="16" text-anchor="end" fill="#1a1a1a" stroke="#1a1a1a" stroke-width="0.25" font-weight="normal" >1.0</text>
<line x1="562.5" y1="55.1" x2="572.4" y2="55.1" stroke="#333" stroke-width="1.1"/>
<text x="556.0" y="61.6" font-size="16" text-anchor="end" fill="#1a1a1a" stroke="#1a1a1a" stroke-width="0.25" font-weight="normal" >1.5</text>
<text x="602.35" y="221" font-size="16" text-anchor="middle" fill="#1a1a1a" stroke="#1a1a1a" stroke-width="0.25" font-weight="normal" >HBA1</text>
<line x1="592" y1="89" x2="618" y2="89" stroke="#555" stroke-width="1.5"/>
<path d="M605.50,81.00 L605.50,78.10 M605.50,81.00 L608.26,80.10 M605.50,81.00 L607.20,83.35 M605.50,81.00 L603.80,83.35 M605.50,81.00 L602.74,80.10 " stroke="#111" stroke-width="1.7" fill="none"/>
<text transform="translate(525.9,128.8) rotate(-90)" font-size="16" text-anchor="middle" fill="#1a1a1a" stroke="#1a1a1a" stroke-width="0.25" >Relative mRNA</text>
<rect x="717" y="192.4" width="17.4" height="8.8" fill="#a6bcdb" stroke="#333" stroke-width="1"/>
<rect x="743" y="124.3" width="17.0" height="76.9" fill="#f7cabf" stroke="#333" stroke-width="1"/>
<line x1="725.7" y1="192.4" x2="725.7" y2="185.4" stroke="#333" stroke-width="1"/><line x1="721.2" y1="185.4" x2="730.2" y2="185.4" stroke="#333" stroke-width="1"/>
<line x1="751.5" y1="124.3" x2="751.5" y2="107.8" stroke="#333" stroke-width="1"/><line x1="747.0" y1="107.8" x2="756.0" y2="107.8" stroke="#333" stroke-width="1"/>
<circle cx="718" cy="188.5" r="2.1" fill="none" stroke="#7fa6dc" stroke-width="1.3"/>
<circle cx="732" cy="188.5" r="2.1" fill="none" stroke="#7fa6dc" stroke-width="1.3"/>
<circle cx="725.5" cy="200" r="2.1" fill="none" stroke="#7fa6dc" stroke-width="1.3"/>
<circle cx="751.5" cy="104" r="2.1" fill="none" stroke="#e89a8c" stroke-width="1.3"/>
<circle cx="743.5" cy="134" r="2.1" fill="none" stroke="#e89a8c" stroke-width="1.3"/>
<circle cx="759.5" cy="134" r="2.1" fill="none" stroke="#e89a8c" stroke-width="1.3"/>
<line x1="709.1" y1="55.099999999999966" x2="709.1" y2="201.2" stroke="#333" stroke-width="1.1"/>
<line x1="709.1" y1="201.2" x2="768" y2="201.2" stroke="#333" stroke-width="1.1"/>
<line x1="699.5" y1="201.2" x2="709.1" y2="201.2" stroke="#333" stroke-width="1.1"/>
<text x="693.0" y="207.7" font-size="16" text-anchor="end" fill="#1a1a1a" stroke="#1a1a1a" stroke-width="0.25" font-weight="normal" >0.0</text>
<line x1="699.5" y1="152.5" x2="709.1" y2="152.5" stroke="#333" stroke-width="1.1"/>
<text x="693.0" y="159.0" font-size="16" text-anchor="end" fill="#1a1a1a" stroke="#1a1a1a" stroke-width="0.25" font-weight="normal" >0.5</text>
<line x1="699.5" y1="103.8" x2="709.1" y2="103.8" stroke="#333" stroke-width="1.1"/>
<text x="693.0" y="110.3" font-size="16" text-anchor="end" fill="#1a1a1a" stroke="#1a1a1a" stroke-width="0.25" font-weight="normal" >1.0</text>
<line x1="699.5" y1="55.1" x2="709.1" y2="55.1" stroke="#333" stroke-width="1.1"/>
<text x="693.0" y="61.6" font-size="16" text-anchor="end" fill="#1a1a1a" stroke="#1a1a1a" stroke-width="0.25" font-weight="normal" >1.5</text>
<text x="738.5" y="221" font-size="16" text-anchor="middle" fill="#1a1a1a" stroke="#1a1a1a" stroke-width="0.25" font-weight="normal" >HBA2</text>
<line x1="727.4" y1="87.5" x2="754.3" y2="87.5" stroke="#555" stroke-width="1.5"/>
<path d="M741.00,79.50 L741.00,76.60 M741.00,79.50 L743.76,78.60 M741.00,79.50 L742.70,81.85 M741.00,79.50 L739.30,81.85 M741.00,79.50 L738.24,78.60 " stroke="#111" stroke-width="1.7" fill="none"/>
<text transform="translate(661.9,128.0) rotate(-90)" font-size="16" text-anchor="middle" fill="#1a1a1a" stroke="#1a1a1a" stroke-width="0.25" >Relative mRNA</text>
<text x="76" y="310" font-size="16.3" text-anchor="start" fill="#1a1a1a" stroke="#1a1a1a" stroke-width="0.25" font-weight="normal" >H3K27ac</text>
<rect x="85.5" y="315.3" width="35.5" height="126.7" fill="#eef5fb" stroke="#b9c9d8" stroke-width="0.8"/>
<rect x="158" y="315.3" width="35.5" height="126.7" fill="#eef5fb" stroke="#b9c9d8" stroke-width="0.8"/>
<text transform="translate(16.8,351.3) rotate(-90)" font-size="16" text-anchor="middle" fill="#1a1a1a" stroke="#1a1a1a" stroke-width="0.25" >Mock</text>
<text transform="translate(16.5,415.6) rotate(-90)" font-size="16" text-anchor="middle" fill="#1a1a1a" stroke="#1a1a1a" stroke-width="0.25" >AST</text>
<text x="42" y="461" font-size="16" text-anchor="start" fill="#1a1a1a" stroke="#1a1a1a" stroke-width="0.25" font-weight="normal" >HBA2</text>
<text x="141.5" y="461" font-size="16" text-anchor="start" fill="#1a1a1a" stroke="#1a1a1a" stroke-width="0.25" font-weight="normal" >HBA1</text>
<path d="M30.4,374.0 L31.0,371.5 L33.0,370.0 L35.0,370.5 L37.5,371.0 L39.7,374.0Z" fill="#000"/>
<path d="M48.1,374.0 L49.0,371.5 L51.0,371.0 L53.0,369.8 L55.0,371.0 L56.6,374.0Z" fill="#000"/>
<path d="M98.3,374.0 L98.8,371.2 L104.4,371.2 L104.8,374.0Z" fill="#000"/>
<path d="M140.0,374.0 L140.5,371.5 L145.4,371.5 L145.6,374.0Z" fill="#000"/>
<path d="M148.5,374.0 L149.0,371.2 L151.0,370.5 L154.7,371.0 L155.0,374.0Z" fill="#000"/>
<path d="M172.4,374.0 L173.0,368.5 L174.0,367.8 L178.5,367.8 L179.3,374.0Z" fill="#000"/>
<path d="M184.0,374.0 L184.5,370.2 L186.0,369.7 L189.5,369.7 L190.1,374.0Z" fill="#000"/>
<path d="M193.2,374.0 L194.5,367.0 L196.5,363.0 L197.8,360.9 L199.0,362.0 L200.5,366.0 L202.0,369.0 L203.5,371.0 L204.8,374.0Z" fill="#000"/>
<path d="M220.0,374.0 L220.3,371.5 L226.0,371.5 L226.1,374.0Z" fill="#000"/>
<path d="M244.1,374.0 L246.0,370.5 L248.8,367.8 L250.5,369.0 L252.6,374.0Z" fill="#000"/>
<rect x="37.3" y="372.0" width="3.7" height="2" fill="#b08890"/>
<rect x="56.6" y="372.0" width="2.4" height="2" fill="#b08890"/>
<rect x="62" y="372.0" width="6.2" height="2" fill="#b08890"/>
<rect x="104.8" y="372.0" width="5.2" height="2" fill="#b08890"/>
<rect x="130.7" y="372.0" width="5.3" height="2" fill="#b08890"/>
<rect x="155" y="372.0" width="3.0" height="2" fill="#b08890"/>
<rect x="212.5" y="372.0" width="5.5" height="2" fill="#b08890"/>
<rect x="232.2" y="372.0" width="5.8" height="2" fill="#b08890"/>
<path d="M29.6,442.2 L31.0,440.2 L33.5,439.4 L36.0,439.7 L38.1,441.4 L45.0,441.4 L45.2,442.2Z" fill="#000"/>
<path d="M48.9,442.2 L51.0,440.2 L53.0,437.7 L55.0,435.2 L56.6,434.0 L58.5,435.2 L60.5,438.7 L62.8,442.2Z" fill="#000"/>
<path d="M72.0,442.2 L72.8,437.2 L74.0,436.0 L77.5,436.0 L79.0,442.2Z" fill="#000"/>
<path d="M96.7,442.2 L99.0,439.2 L101.0,435.2 L103.0,430.2 L104.4,427.4 L105.8,429.2 L107.5,434.2 L109.0,438.7 L110.6,442.2Z" fill="#000"/>
<path d="M120.6,442.2 L121.0,439.7 L127.0,439.7 L127.5,441.0 L133.8,441.0 L134.0,442.2Z" fill="#000"/>
<path d="M135.3,442.2 L137.0,438.2 L139.8,431.9 L142.0,435.2 L143.5,439.2 L144.6,442.2Z" fill="#000"/>
<path d="M150.3,442.2 L151.0,440.7 L155.0,440.2 L158.0,440.7 L163.9,441.0 L164.0,442.2Z" fill="#000"/>
<path d="M167.8,442.2 L168.3,434.2 L170.3,431.7 L171.8,414.2 L172.8,392.2 L173.4,384.7 L174.6,392.2 L175.8,394.7 L177.4,396.2 L178.6,412.2 L179.4,438.2 L180.0,442.2Z" fill="#000"/>
<path d="M184.0,442.2 L184.5,427.2 L185.5,425.7 L189.5,426.0 L190.4,442.2Z" fill="#000"/>
<path d="M192.5,442.2 L193.5,433.2 L195.0,425.7 L196.5,424.7 L198.0,424.5 L199.5,427.2 L200.8,434.2 L202.0,434.7 L203.5,436.2 L205.0,438.7 L206.5,437.2 L207.5,439.7 L210.0,442.2Z" fill="#000"/>
<path d="M216.2,442.2 L216.5,438.4 L222.4,438.4 L222.6,442.2Z" fill="#000"/>
<path d="M225.8,442.2 L226.0,440.7 L231.4,440.7 L231.5,442.2Z" fill="#000"/>
<path d="M236.2,442.2 L237.0,440.4 L242.0,440.0 L247.5,440.4 L247.6,442.2Z" fill="#000"/>
<line x1="27.7" y1="374.5" x2="254.7" y2="374.5" stroke="#111" stroke-width="1.1"/>
<line x1="27.7" y1="442.5" x2="254.7" y2="442.5" stroke="#111" stroke-width="1.1"/>
<line x1="89.0" y1="456.5" x2="110.5" y2="456.5" stroke="#555" stroke-width="0.7"/>
<rect x="89.0" y="452" width="3.8" height="9.3" fill="#000"/>
<rect x="90.2" y="448.3" width="2.5" height="16.4" fill="#000"/>
<rect x="96.0" y="448.3" width="4.8" height="16.4" fill="#000"/>
<rect x="104.6" y="448.3" width="3.2" height="16.4" fill="#000"/>
<rect x="104.6" y="452" width="5.8" height="9.3" fill="#000"/>
<path d="M93.60000000000001,454.3 L95.2,456.5 L93.60000000000001,458.7" fill="none" stroke="#666" stroke-width="0.6"/>
<path d="M101.9,454.3 L103.5,456.5 L101.9,458.7" fill="none" stroke="#666" stroke-width="0.6"/>
<line x1="185.3" y1="456.5" x2="206.8" y2="456.5" stroke="#555" stroke-width="0.7"/>
<rect x="185.3" y="452" width="3.8" height="9.3" fill="#000"/>
<rect x="186.5" y="448.3" width="2.5" height="16.4" fill="#000"/>
<rect x="192.3" y="448.3" width="4.8" height="16.4" fill="#000"/>
<rect x="200.9" y="448.3" width="3.2" height="16.4" fill="#000"/>
<rect x="200.9" y="452" width="5.8" height="9.3" fill="#000"/>
<path d="M189.9,454.3 L191.50000000000003,456.5 L189.9,458.7" fill="none" stroke="#666" stroke-width="0.6"/>
<path d="M198.2,454.3 L199.8,456.5 L198.2,458.7" fill="none" stroke="#666" stroke-width="0.6"/>
<text x="350.5" y="265.2" font-size="16" text-anchor="middle" fill="#1a1a1a" stroke="#1a1a1a" stroke-width="0.25" font-weight="normal" >siCON</text>
<text x="470.2" y="264.7" font-size="16" text-anchor="middle" fill="#1a1a1a" stroke="#1a1a1a" stroke-width="0.25" font-weight="normal" >siHBA1/2</text>
<line x1="312" y1="271.5" x2="387.7" y2="271.5" stroke="#444" stroke-width="1"/>
<line x1="393.4" y1="271.5" x2="549" y2="271.5" stroke="#444" stroke-width="1"/>
<text x="272.5" y="295.4" font-size="16" text-anchor="start" fill="#1a1a1a" stroke="#1a1a1a" stroke-width="0.25" font-weight="normal" >NAC</text>
<text x="349.5" y="295" font-size="16" text-anchor="middle" fill="#1a1a1a" stroke="#1a1a1a" stroke-width="0" font-weight="bold" >-</text>
<text x="429.4" y="295" font-size="16" text-anchor="middle" fill="#1a1a1a" stroke="#1a1a1a" stroke-width="0" font-weight="bold" >-</text>
<text x="508" y="295" font-size="16" text-anchor="middle" fill="#1a1a1a" stroke="#1a1a1a" stroke-width="0" font-weight="bold" >+</text>
<text transform="translate(306.2,340.5) rotate(-90)" font-size="16" text-anchor="middle" fill="#70b452" stroke="#70b452" stroke-width="0.25" >ROS</text>
<text transform="translate(307.2,416.7) rotate(-90)" font-size="16" text-anchor="middle" fill="#1a1a1a" stroke="#1a1a1a" stroke-width="0.25" >Mer<tspan fill="#70b452" stroke="#70b452">ge</tspan></text>
<rect x="312" y="301" width="76.6" height="76.7" fill="#000"/>
<rect x="392" y="301" width="76.6" height="76.7" fill="#000"/>
<rect x="471.5" y="301" width="76.6" height="76.7" fill="#000"/>
<g filter="url(#b2)"><path d="M335.8,322.3 C336.5,321.2 336.9,320.3 338.3,319.8 C339.8,319.3 342.8,319.7 344.5,319.3 C346.2,318.8 346.8,317.5 348.5,317.2 C350.2,316.8 352.2,317.1 354.5,317.2 C356.9,317.3 361.0,317.0 362.6,317.7 C364.2,318.4 363.8,319.8 364.2,321.2 C364.5,322.7 365.3,325.2 364.7,326.4 C364.1,327.5 361.5,327.5 360.7,328.3 C359.8,329.2 359.3,329.7 359.7,331.4 C360.0,333.1 361.6,336.1 362.6,338.5 C363.6,340.9 365.0,343.3 365.7,345.6 C366.4,348.0 366.7,350.4 366.7,352.7 C366.7,355.1 366.9,358.2 365.7,359.8 C364.5,361.5 361.5,362.0 359.7,362.8 C357.8,363.7 356.6,364.3 354.5,364.9 C352.5,365.5 349.1,366.6 347.4,366.4 C345.7,366.2 345.1,365.2 344.5,363.9 C343.8,362.6 344.2,359.8 343.4,358.8 C342.5,357.7 340.3,359.0 339.3,357.8 C338.3,356.6 337.8,353.7 337.3,351.7 C336.9,349.6 337.4,347.6 336.8,345.6 C336.2,343.6 334.2,341.5 333.7,339.5 C333.3,337.5 334.2,335.7 334.3,333.5 C334.4,331.3 334.0,328.2 334.3,326.4 C334.5,324.5 335.1,323.4 335.8,322.3Z" fill="#041004"/></g>
<g filter="url(#b2)">
<circle cx="348.5" cy="345.3" r="4.8" fill="#123812" fill-opacity="0.41"/>
<circle cx="350.5" cy="346.8" r="3.0" fill="#123812" fill-opacity="0.43"/>
<circle cx="355.0" cy="358.1" r="2.7" fill="#123812" fill-opacity="0.36"/>
<circle cx="355.8" cy="348.4" r="2.9" fill="#123812" fill-opacity="0.26"/>
<circle cx="338.9" cy="327.9" r="2.6" fill="#123812" fill-opacity="0.41"/>
<circle cx="348.0" cy="360.8" r="3.8" fill="#123812" fill-opacity="0.47"/>
<circle cx="350.2" cy="350.9" r="3.6" fill="#123812" fill-opacity="0.35"/>
<circle cx="362.7" cy="353.4" r="3.3" fill="#123812" fill-opacity="0.33"/>
<circle cx="359.9" cy="336.6" r="4.6" fill="#123812" fill-opacity="0.39"/>
<circle cx="336.2" cy="328.2" r="2.8" fill="#123812" fill-opacity="0.27"/>
<circle cx="361.1" cy="324.4" r="3.9" fill="#123812" fill-opacity="0.41"/>
<circle cx="336.2" cy="337.7" r="3.0" fill="#123812" fill-opacity="0.34"/>
<circle cx="339.6" cy="336.3" r="4.6" fill="#123812" fill-opacity="0.47"/>
<circle cx="339.7" cy="328.8" r="4.4" fill="#123812" fill-opacity="0.37"/>
</g>
<g filter="url(#b1)"><path d="M419.1,323.2 C420.4,321.7 421.8,321.0 423.1,320.6 C424.5,320.3 426.3,320.3 427.2,321.1 C428.1,321.9 427.9,324.8 428.7,325.7 C429.6,326.6 430.7,326.4 432.3,326.7 C433.9,326.9 436.5,326.9 438.4,327.2 C440.2,327.6 442.1,327.9 443.5,328.7 C444.8,329.6 445.4,331.2 446.5,332.3 C447.5,333.4 449.2,333.8 449.5,335.3 C449.9,336.8 449.2,339.6 448.5,341.4 C447.8,343.3 446.3,345.0 445.5,346.5 C444.6,348.0 445.0,349.5 443.5,350.5 C442.0,351.5 438.7,352.1 436.4,352.6 C434.0,353.1 431.6,353.1 429.3,353.6 C426.9,354.1 424.2,355.2 422.2,355.6 C420.1,355.9 418.8,356.2 417.1,355.6 C415.4,354.9 413.3,352.9 412.0,351.5 C410.6,350.2 409.3,348.8 409.0,347.5 C408.7,346.1 410.1,344.9 410.0,343.4 C409.9,341.9 408.3,340.1 408.5,338.4 C408.6,336.7 409.9,334.9 411.0,333.3 C412.1,331.8 413.7,331.0 415.0,329.3 C416.4,327.6 417.7,324.6 419.1,323.2Z" fill="#169a16"/></g>
<g filter="url(#b1)">
<circle cx="427.9" cy="344.2" r="3.7" fill="#3ef03e" fill-opacity="0.57"/>
<circle cx="418.8" cy="350.1" r="3.7" fill="#3ef03e" fill-opacity="0.80"/>
<circle cx="431.8" cy="344.4" r="2.4" fill="#3ef03e" fill-opacity="0.72"/>
<circle cx="421.7" cy="334.4" r="4.1" fill="#3ef03e" fill-opacity="0.51"/>
<circle cx="411.4" cy="335.1" r="2.3" fill="#3ef03e" fill-opacity="0.66"/>
<circle cx="414.1" cy="350.3" r="3.0" fill="#3ef03e" fill-opacity="0.71"/>
<circle cx="433.5" cy="337.2" r="3.0" fill="#3ef03e" fill-opacity="0.52"/>
<circle cx="422.5" cy="332.8" r="3.7" fill="#3ef03e" fill-opacity="0.84"/>
<circle cx="422.9" cy="338.5" r="4.0" fill="#3ef03e" fill-opacity="0.75"/>
<circle cx="425.9" cy="338.8" r="2.6" fill="#3ef03e" fill-opacity="0.71"/>
<circle cx="424.0" cy="348.7" r="2.3" fill="#3ef03e" fill-opacity="0.77"/>
<circle cx="414.4" cy="345.7" r="2.1" fill="#3ef03e" fill-opacity="0.64"/>
<circle cx="422.0" cy="343.4" r="2.1" fill="#3ef03e" fill-opacity="0.73"/>
<circle cx="422.9" cy="326.0" r="3.9" fill="#3ef03e" fill-opacity="0.96"/>
<circle cx="441.4" cy="332.0" r="2.6" fill="#3ef03e" fill-opacity="0.50"/>
<circle cx="421.0" cy="349.3" r="4.1" fill="#3ef03e" fill-opacity="0.82"/>
<circle cx="416.8" cy="339.2" r="3.2" fill="#3ef03e" fill-opacity="0.81"/>
<circle cx="419.6" cy="352.6" r="2.7" fill="#3ef03e" fill-opacity="0.97"/>
<circle cx="429.8" cy="345.7" r="3.8" fill="#3ef03e" fill-opacity="0.61"/>
<circle cx="419.3" cy="328.6" r="3.7" fill="#3ef03e" fill-opacity="0.85"/>
<circle cx="425.5" cy="328.1" r="3.1" fill="#3ef03e" fill-opacity="0.99"/>
<circle cx="431.8" cy="342.9" r="4.3" fill="#3ef03e" fill-opacity="0.98"/>
<circle cx="441.0" cy="334.9" r="3.5" fill="#3ef03e" fill-opacity="0.95"/>
<circle cx="442.3" cy="341.2" r="2.9" fill="#3ef03e" fill-opacity="0.68"/>
<circle cx="439.9" cy="340.6" r="2.0" fill="#3ef03e" fill-opacity="0.86"/>
<circle cx="430.7" cy="349.3" r="2.9" fill="#3ef03e" fill-opacity="0.55"/>
<circle cx="422.4" cy="330.8" r="4.3" fill="#3ef03e" fill-opacity="0.84"/>
<circle cx="431.0" cy="342.8" r="2.3" fill="#3ef03e" fill-opacity="0.77"/>
<circle cx="438.2" cy="334.0" r="2.6" fill="#3ef03e" fill-opacity="0.70"/>
<circle cx="421.1" cy="345.3" r="2.4" fill="#3ef03e" fill-opacity="0.55"/>
<circle cx="420.5" cy="345.7" r="3.9" fill="#3ef03e" fill-opacity="0.83"/>
<circle cx="426.5" cy="325.7" r="3.7" fill="#3ef03e" fill-opacity="0.67"/>
<circle cx="417.2" cy="331.4" r="4.4" fill="#3ef03e" fill-opacity="0.50"/>
<circle cx="422.7" cy="329.6" r="2.5" fill="#3ef03e" fill-opacity="0.72"/>
<circle cx="429.1" cy="345.8" r="2.4" fill="#3ef03e" fill-opacity="0.73"/>
<circle cx="434.0" cy="351.4" r="2.6" fill="#3ef03e" fill-opacity="0.73"/>
<circle cx="416.7" cy="339.6" r="3.9" fill="#3ef03e" fill-opacity="0.70"/>
<circle cx="437.0" cy="344.4" r="4.4" fill="#3ef03e" fill-opacity="0.78"/>
<circle cx="437.3" cy="332.3" r="3.8" fill="#3ef03e" fill-opacity="0.66"/>
<circle cx="429.1" cy="332.7" r="2.8" fill="#3ef03e" fill-opacity="0.57"/>
<circle cx="416.6" cy="339.8" r="2.6" fill="#3ef03e" fill-opacity="0.52"/>
<circle cx="442.9" cy="329.8" r="4.3" fill="#3ef03e" fill-opacity="0.80"/>
<circle cx="424.0" cy="352.6" r="4.2" fill="#3ef03e" fill-opacity="0.66"/>
<circle cx="412.0" cy="343.6" r="4.1" fill="#3ef03e" fill-opacity="0.80"/>
<circle cx="442.1" cy="334.7" r="3.5" fill="#3ef03e" fill-opacity="0.63"/>
</g>
<g filter="url(#b1)">
<circle cx="418.7" cy="328.6" r="2.2" fill="#0c600c" fill-opacity="0.70"/>
<circle cx="420.1" cy="345.2" r="1.9" fill="#0c600c" fill-opacity="0.73"/>
<circle cx="418.2" cy="349.9" r="2.1" fill="#0c600c" fill-opacity="0.54"/>
<circle cx="431.4" cy="344.5" r="1.7" fill="#0c600c" fill-opacity="0.70"/>
<circle cx="433.2" cy="343.3" r="1.7" fill="#0c600c" fill-opacity="0.53"/>
<circle cx="446.2" cy="338.6" r="1.7" fill="#0c600c" fill-opacity="0.64"/>
<circle cx="416.2" cy="349.7" r="2.0" fill="#0c600c" fill-opacity="0.53"/>
<circle cx="428.2" cy="345.3" r="2.0" fill="#0c600c" fill-opacity="0.64"/>
<circle cx="428.4" cy="335.7" r="2.1" fill="#0c600c" fill-opacity="0.53"/>
<circle cx="427.9" cy="327.9" r="2.4" fill="#0c600c" fill-opacity="0.78"/>
</g>
<g filter="url(#b2)"><path d="M497.6,326.3 C499.0,325.2 500.1,323.7 501.7,323.3 C503.2,322.9 505.2,323.4 506.7,323.8 C508.2,324.2 509.2,325.7 510.8,325.8 C512.3,325.9 513.9,324.6 515.8,324.3 C517.7,323.9 520.2,323.5 521.9,323.8 C523.6,324.2 524.8,325.2 526.0,326.3 C527.1,327.4 528.2,329.0 529.0,330.4 C529.9,331.7 530.3,333.3 531.0,334.4 C531.8,335.6 533.2,336.2 533.5,337.5 C533.9,338.9 533.7,341.0 533.0,342.5 C532.2,344.1 530.4,345.6 529.0,346.6 C527.7,347.6 525.9,347.6 524.9,348.7 C523.9,349.7 523.7,351.5 522.9,352.7 C522.1,353.9 521.0,354.8 519.8,355.7 C518.7,356.5 517.8,357.7 515.8,357.8 C513.8,357.8 510.0,356.6 507.7,356.2 C505.3,355.9 503.3,355.9 501.7,355.7 C500.0,355.4 498.6,355.7 497.6,354.7 C496.6,353.7 496.4,351.0 495.5,349.7 C494.7,348.3 493.3,347.9 492.6,346.6 C491.8,345.2 491.3,343.2 491.0,341.6 C490.6,339.9 490.5,338.0 490.5,336.4 C490.5,334.9 490.5,333.5 491.0,332.4 C491.4,331.3 492.4,330.9 493.5,329.9 C494.6,328.8 496.2,327.4 497.6,326.3Z" fill="#081c08"/></g>
<g filter="url(#b2)">
<circle cx="500.6" cy="347.7" r="4.2" fill="#1a501a" fill-opacity="0.63"/>
<circle cx="497.1" cy="330.3" r="2.9" fill="#1a501a" fill-opacity="0.35"/>
<circle cx="523.3" cy="326.5" r="3.8" fill="#1a501a" fill-opacity="0.35"/>
<circle cx="502.3" cy="338.0" r="4.6" fill="#1a501a" fill-opacity="0.52"/>
<circle cx="500.5" cy="354.1" r="3.7" fill="#1a501a" fill-opacity="0.59"/>
<circle cx="515.2" cy="338.0" r="3.4" fill="#1a501a" fill-opacity="0.44"/>
<circle cx="503.2" cy="326.0" r="4.5" fill="#1a501a" fill-opacity="0.61"/>
<circle cx="514.7" cy="350.2" r="2.8" fill="#1a501a" fill-opacity="0.55"/>
<circle cx="509.4" cy="328.3" r="3.0" fill="#1a501a" fill-opacity="0.49"/>
<circle cx="500.3" cy="339.1" r="4.0" fill="#1a501a" fill-opacity="0.43"/>
<circle cx="494.5" cy="340.3" r="3.1" fill="#1a501a" fill-opacity="0.36"/>
<circle cx="497.5" cy="335.5" r="2.7" fill="#1a501a" fill-opacity="0.54"/>
<circle cx="518.7" cy="327.6" r="3.5" fill="#1a501a" fill-opacity="0.64"/>
<circle cx="506.1" cy="348.9" r="2.8" fill="#1a501a" fill-opacity="0.69"/>
<circle cx="517.0" cy="349.2" r="3.0" fill="#1a501a" fill-opacity="0.53"/>
<circle cx="516.0" cy="344.1" r="3.4" fill="#1a501a" fill-opacity="0.58"/>
<circle cx="504.5" cy="332.8" r="2.9" fill="#1a501a" fill-opacity="0.56"/>
<circle cx="514.8" cy="342.3" r="2.6" fill="#1a501a" fill-opacity="0.45"/>
</g>
<g filter="url(#b2)"><circle cx="527.5" cy="339" r="3.5" fill="#267026"/><circle cx="499.5" cy="334" r="3.5" fill="#1a501a"/></g>
<path d="M334.2,320.4 C334.9,319.2 335.4,318.2 337.0,317.6 C338.6,317.0 341.9,317.5 343.8,317.0 C345.7,316.5 346.4,315.1 348.3,314.7 C350.2,314.3 352.4,314.6 355.0,314.7 C357.6,314.8 362.2,314.6 364.0,315.3 C365.8,316.1 365.3,317.6 365.7,319.2 C366.1,320.8 366.9,323.6 366.3,324.9 C365.7,326.2 362.7,326.2 361.8,327.1 C360.9,328.0 360.3,328.6 360.7,330.5 C361.1,332.4 362.9,335.8 364.0,338.4 C365.1,341.0 366.6,343.7 367.4,346.3 C368.1,348.9 368.5,351.6 368.5,354.2 C368.5,356.8 368.7,360.2 367.4,362.1 C366.1,364.0 362.8,364.5 360.7,365.4 C358.6,366.3 357.3,367.0 355.0,367.7 C352.7,368.4 349.0,369.6 347.1,369.4 C345.2,369.2 344.6,368.0 343.8,366.6 C343.1,365.2 343.6,362.0 342.6,360.9 C341.7,359.8 339.2,361.1 338.1,359.8 C337.0,358.5 336.4,355.2 335.9,353.0 C335.4,350.8 336.0,348.6 335.3,346.3 C334.6,344.1 332.4,341.8 331.9,339.5 C331.4,337.2 332.4,335.2 332.5,332.8 C332.6,330.4 332.2,327.0 332.5,324.9 C332.8,322.8 333.4,321.6 334.2,320.4Z" fill="none" stroke="#e0dcd4" stroke-width="0.9"/>
<path d="M418.1,321.5 C419.6,319.9 421.1,319.1 422.6,318.7 C424.1,318.3 426.1,318.3 427.1,319.2 C428.1,320.1 427.9,323.3 428.8,324.3 C429.8,325.3 431.0,325.1 432.8,325.4 C434.6,325.7 437.4,325.6 439.5,326.0 C441.6,326.4 443.7,326.8 445.2,327.7 C446.7,328.6 447.4,330.4 448.5,331.6 C449.6,332.8 451.5,333.3 451.9,335.0 C452.3,336.7 451.6,339.7 450.8,341.8 C450.1,343.9 448.3,345.7 447.4,347.4 C446.5,349.1 446.9,350.8 445.2,351.9 C443.5,353.0 439.9,353.6 437.3,354.2 C434.7,354.8 432.0,354.8 429.4,355.3 C426.8,355.9 423.8,357.1 421.5,357.5 C419.2,357.9 417.8,358.2 415.9,357.5 C414.0,356.8 411.7,354.5 410.2,353.0 C408.7,351.5 407.3,350.0 406.9,348.5 C406.5,347.0 408.1,345.7 408.0,344.0 C407.9,342.3 406.1,340.3 406.3,338.4 C406.5,336.5 407.9,334.5 409.1,332.8 C410.3,331.1 412.1,330.2 413.6,328.3 C415.1,326.4 416.6,323.1 418.1,321.5Z" fill="none" stroke="#e0dcd4" stroke-width="0.9"/>
<path d="M496.1,324.9 C497.6,323.7 498.9,322.0 500.6,321.5 C502.3,321.0 504.5,321.6 506.2,322.1 C507.9,322.6 509.0,324.2 510.7,324.3 C512.4,324.4 514.2,323.0 516.3,322.6 C518.4,322.2 521.2,321.7 523.1,322.1 C525.0,322.5 526.3,323.7 527.6,324.9 C528.9,326.1 530.1,327.9 531.0,329.4 C531.9,330.9 532.4,332.6 533.2,333.9 C534.0,335.2 535.6,335.8 536.0,337.3 C536.4,338.8 536.2,341.2 535.4,342.9 C534.6,344.6 532.5,346.3 531.0,347.4 C529.5,348.5 527.5,348.6 526.4,349.7 C525.3,350.8 525.1,352.9 524.2,354.2 C523.3,355.5 522.1,356.6 520.8,357.5 C519.5,358.4 518.5,359.7 516.3,359.8 C514.0,359.9 509.9,358.5 507.3,358.1 C504.7,357.7 502.5,357.8 500.6,357.5 C498.7,357.2 497.2,357.5 496.1,356.4 C495.0,355.3 494.7,352.3 493.8,350.8 C492.9,349.3 491.4,348.9 490.5,347.4 C489.6,345.9 489.1,343.7 488.7,341.8 C488.3,339.9 488.2,337.8 488.2,336.1 C488.2,334.4 488.1,332.8 488.7,331.6 C489.2,330.4 490.3,329.9 491.5,328.8 C492.7,327.7 494.6,326.1 496.1,324.9Z" fill="none" stroke="#e0dcd4" stroke-width="0.9"/>
<rect x="312" y="381.2" width="76.6" height="76.5" fill="#4a4a4a"/>
<rect x="392" y="381.2" width="76.6" height="76.5" fill="#4b4b4b"/>
<rect x="471.5" y="381.2" width="76.6" height="76.5" fill="#535353"/>
<g filter="url(#b2)"><path d="M335.8,402.5 C336.5,401.4 336.9,400.5 338.3,400.0 C339.8,399.5 342.8,399.9 344.5,399.5 C346.2,399.0 346.8,397.7 348.5,397.4 C350.2,397.0 352.2,397.3 354.5,397.4 C356.9,397.5 361.0,397.2 362.6,397.9 C364.2,398.6 363.8,400.0 364.2,401.4 C364.5,402.9 365.3,405.4 364.7,406.6 C364.1,407.7 361.5,407.7 360.7,408.5 C359.8,409.4 359.3,409.9 359.7,411.6 C360.0,413.3 361.6,416.3 362.6,418.7 C363.6,421.1 365.0,423.5 365.7,425.8 C366.4,428.2 366.7,430.6 366.7,432.9 C366.7,435.3 366.9,438.4 365.7,440.0 C364.5,441.7 361.5,442.2 359.7,443.0 C357.8,443.9 356.6,444.5 354.5,445.1 C352.5,445.7 349.1,446.8 347.4,446.6 C345.7,446.4 345.1,445.4 344.5,444.1 C343.8,442.8 344.2,440.0 343.4,439.0 C342.5,437.9 340.3,439.2 339.3,438.0 C338.3,436.8 337.8,433.9 337.3,431.9 C336.9,429.8 337.4,427.8 336.8,425.8 C336.2,423.8 334.2,421.7 333.7,419.7 C333.3,417.7 334.2,415.9 334.3,413.7 C334.4,411.5 334.0,408.4 334.3,406.6 C334.5,404.7 335.1,403.6 335.8,402.5Z" fill="#728272"/></g>
<g filter="url(#b05)" fill="none" stroke="#a8b8a4" stroke-width="1.3" stroke-opacity="0.55">
<circle cx="355.1" cy="421.1" r="2.9"/>
<circle cx="360.9" cy="439.1" r="3.5"/>
<circle cx="350.4" cy="407.8" r="2.5"/>
<circle cx="345.5" cy="426.9" r="2.6"/>
<circle cx="361.0" cy="407.6" r="3.0"/>
<circle cx="343.9" cy="422.1" r="2.7"/>
<circle cx="348.5" cy="425.1" r="3.2"/>
<circle cx="349.6" cy="405.1" r="2.6"/>
<circle cx="360.5" cy="406.3" r="4.4"/>
<circle cx="359.8" cy="426.7" r="4.0"/>
<circle cx="336.4" cy="421.0" r="4.2"/>
<circle cx="345.3" cy="419.6" r="3.3"/>
<circle cx="350.1" cy="421.8" r="3.6"/>
<circle cx="359.3" cy="407.0" r="3.7"/>
<circle cx="352.3" cy="429.0" r="2.9"/>
<circle cx="338.1" cy="413.9" r="4.4"/>
<circle cx="344.6" cy="427.6" r="3.1"/>
<circle cx="361.7" cy="437.4" r="3.2"/>
<circle cx="356.9" cy="431.9" r="4.3"/>
<circle cx="349.9" cy="415.4" r="3.0"/>
<circle cx="360.2" cy="421.3" r="4.2"/>
<circle cx="342.5" cy="417.8" r="2.8"/>
<circle cx="359.2" cy="421.1" r="3.0"/>
<circle cx="353.9" cy="418.2" r="3.7"/>
<circle cx="351.5" cy="410.0" r="4.0"/>
<circle cx="353.6" cy="430.1" r="4.2"/>
</g>
<g filter="url(#b05)" fill="none" stroke="#5a665a" stroke-width="1.0" stroke-opacity="0.5">
<circle cx="358.4" cy="436.8" r="2.7"/>
<circle cx="348.2" cy="411.6" r="3.4"/>
<circle cx="343.9" cy="411.6" r="2.8"/>
<circle cx="341.7" cy="435.5" r="3.4"/>
<circle cx="349.5" cy="431.6" r="3.5"/>
<circle cx="351.4" cy="408.2" r="2.9"/>
<circle cx="341.5" cy="430.1" r="3.0"/>
<circle cx="346.2" cy="438.4" r="2.6"/>
<circle cx="349.1" cy="440.4" r="2.4"/>
<circle cx="338.7" cy="426.3" r="2.7"/>
<circle cx="348.4" cy="412.0" r="2.7"/>
<circle cx="361.6" cy="424.4" r="2.9"/>
<circle cx="346.9" cy="416.6" r="2.3"/>
<circle cx="343.0" cy="411.0" r="2.5"/>
</g>
<g filter="url(#b2)"><path d="M419.5,404.0 C420.8,402.7 422.1,402.0 423.4,401.6 C424.6,401.3 426.3,401.3 427.2,402.1 C428.1,402.9 427.9,405.6 428.7,406.4 C429.5,407.3 430.6,407.1 432.1,407.4 C433.7,407.6 436.1,407.6 437.9,407.9 C439.7,408.2 441.5,408.6 442.8,409.4 C444.1,410.2 444.7,411.7 445.6,412.7 C446.6,413.8 448.2,414.2 448.6,415.6 C448.9,417.1 448.3,419.7 447.6,421.5 C447.0,423.3 445.5,424.9 444.7,426.3 C443.9,427.8 444.2,429.2 442.8,430.2 C441.3,431.2 438.3,431.7 436.0,432.2 C433.7,432.6 431.5,432.6 429.2,433.1 C426.9,433.6 424.3,434.7 422.4,435.0 C420.5,435.3 419.2,435.6 417.6,435.0 C416.0,434.4 414.0,432.4 412.7,431.1 C411.4,429.8 410.2,428.5 409.9,427.3 C409.5,426.0 410.9,424.8 410.8,423.4 C410.7,421.9 409.2,420.2 409.3,418.6 C409.5,417.0 410.7,415.2 411.7,413.8 C412.8,412.3 414.3,411.5 415.6,409.9 C416.9,408.3 418.2,405.4 419.5,404.0Z" fill="#6a946a"/></g>
<g filter="url(#b1)">
<circle cx="436.0" cy="412.3" r="4.3" fill="#88ec90" fill-opacity="0.47"/>
<circle cx="420.5" cy="406.3" r="4.2" fill="#88ec90" fill-opacity="0.64"/>
<circle cx="438.1" cy="422.7" r="3.0" fill="#88ec90" fill-opacity="0.83"/>
<circle cx="420.5" cy="429.2" r="4.4" fill="#88ec90" fill-opacity="0.68"/>
<circle cx="429.4" cy="419.0" r="3.3" fill="#88ec90" fill-opacity="0.68"/>
<circle cx="423.3" cy="421.5" r="3.1" fill="#88ec90" fill-opacity="0.65"/>
<circle cx="431.1" cy="415.7" r="3.8" fill="#88ec90" fill-opacity="0.61"/>
<circle cx="422.5" cy="415.7" r="3.3" fill="#88ec90" fill-opacity="0.81"/>
<circle cx="431.2" cy="412.4" r="3.2" fill="#88ec90" fill-opacity="0.53"/>
<circle cx="430.7" cy="429.8" r="3.8" fill="#88ec90" fill-opacity="0.45"/>
<circle cx="425.0" cy="431.0" r="4.3" fill="#88ec90" fill-opacity="0.58"/>
<circle cx="444.9" cy="418.2" r="3.5" fill="#88ec90" fill-opacity="0.64"/>
<circle cx="427.9" cy="427.1" r="3.8" fill="#88ec90" fill-opacity="0.53"/>
<circle cx="435.2" cy="412.1" r="2.8" fill="#88ec90" fill-opacity="0.70"/>
<circle cx="426.1" cy="409.3" r="2.6" fill="#88ec90" fill-opacity="0.83"/>
<circle cx="427.7" cy="407.0" r="3.2" fill="#88ec90" fill-opacity="0.72"/>
<circle cx="415.6" cy="417.9" r="3.3" fill="#88ec90" fill-opacity="0.73"/>
<circle cx="439.0" cy="416.9" r="3.0" fill="#88ec90" fill-opacity="0.47"/>
<circle cx="421.9" cy="432.4" r="4.1" fill="#88ec90" fill-opacity="0.35"/>
<circle cx="423.6" cy="423.7" r="2.9" fill="#88ec90" fill-opacity="0.75"/>
<circle cx="422.8" cy="431.8" r="3.5" fill="#88ec90" fill-opacity="0.44"/>
<circle cx="444.5" cy="418.7" r="3.9" fill="#88ec90" fill-opacity="0.76"/>
<circle cx="424.8" cy="432.8" r="4.0" fill="#88ec90" fill-opacity="0.54"/>
<circle cx="423.6" cy="408.1" r="3.5" fill="#88ec90" fill-opacity="0.83"/>
<circle cx="413.3" cy="420.5" r="4.2" fill="#88ec90" fill-opacity="0.65"/>
<circle cx="430.3" cy="428.7" r="2.5" fill="#88ec90" fill-opacity="0.82"/>
<circle cx="437.6" cy="430.2" r="4.2" fill="#88ec90" fill-opacity="0.40"/>
<circle cx="434.7" cy="427.6" r="3.2" fill="#88ec90" fill-opacity="0.84"/>
<circle cx="436.0" cy="411.4" r="3.1" fill="#88ec90" fill-opacity="0.47"/>
<circle cx="426.6" cy="411.8" r="2.9" fill="#88ec90" fill-opacity="0.59"/>
<circle cx="425.2" cy="412.6" r="4.1" fill="#88ec90" fill-opacity="0.50"/>
<circle cx="428.2" cy="430.0" r="3.5" fill="#88ec90" fill-opacity="0.38"/>
<circle cx="421.8" cy="413.7" r="4.3" fill="#88ec90" fill-opacity="0.64"/>
<circle cx="427.2" cy="423.4" r="2.6" fill="#88ec90" fill-opacity="0.69"/>
<circle cx="443.1" cy="424.9" r="3.2" fill="#88ec90" fill-opacity="0.49"/>
<circle cx="413.3" cy="416.5" r="4.1" fill="#88ec90" fill-opacity="0.46"/>
<circle cx="427.8" cy="423.6" r="3.8" fill="#88ec90" fill-opacity="0.36"/>
<circle cx="420.1" cy="408.2" r="3.9" fill="#88ec90" fill-opacity="0.82"/>
</g>
<g filter="url(#b2)"><path d="M497.6,406.5 C499.0,405.4 500.1,403.9 501.7,403.5 C503.2,403.1 505.2,403.6 506.7,404.0 C508.2,404.4 509.2,405.9 510.8,406.0 C512.3,406.1 513.9,404.8 515.8,404.5 C517.7,404.1 520.2,403.7 521.9,404.0 C523.6,404.4 524.8,405.4 526.0,406.5 C527.1,407.6 528.2,409.2 529.0,410.6 C529.9,411.9 530.3,413.5 531.0,414.6 C531.8,415.8 533.2,416.4 533.5,417.7 C533.9,419.1 533.7,421.2 533.0,422.7 C532.2,424.3 530.4,425.8 529.0,426.8 C527.7,427.8 525.9,427.8 524.9,428.9 C523.9,429.9 523.7,431.7 522.9,432.9 C522.1,434.1 521.0,435.0 519.8,435.9 C518.7,436.7 517.8,437.9 515.8,438.0 C513.8,438.0 510.0,436.8 507.7,436.4 C505.3,436.1 503.3,436.1 501.7,435.9 C500.0,435.6 498.6,435.9 497.6,434.9 C496.6,433.9 496.4,431.2 495.5,429.9 C494.7,428.5 493.3,428.1 492.6,426.8 C491.8,425.4 491.3,423.4 491.0,421.8 C490.6,420.1 490.5,418.2 490.5,416.6 C490.5,415.1 490.5,413.7 491.0,412.6 C491.4,411.5 492.4,411.1 493.5,410.1 C494.6,409.0 496.2,407.6 497.6,406.5Z" fill="#7a8c78"/></g>
<g filter="url(#b05)" fill="none" stroke="#a0b49c" stroke-width="1.3" stroke-opacity="0.5">
<circle cx="516.5" cy="417.9" r="3.6"/>
<circle cx="509.5" cy="410.2" r="3.4"/>
<circle cx="522.1" cy="417.8" r="3.5"/>
<circle cx="523.3" cy="415.4" r="2.6"/>
<circle cx="525.6" cy="424.3" r="3.8"/>
<circle cx="505.5" cy="430.8" r="3.2"/>
<circle cx="515.5" cy="427.0" r="3.1"/>
<circle cx="522.5" cy="424.3" r="3.4"/>
<circle cx="518.9" cy="408.7" r="2.9"/>
<circle cx="503.7" cy="432.9" r="2.9"/>
<circle cx="515.6" cy="433.1" r="3.2"/>
<circle cx="505.9" cy="412.7" r="3.1"/>
<circle cx="525.4" cy="422.7" r="3.0"/>
<circle cx="499.6" cy="422.6" r="4.3"/>
<circle cx="524.0" cy="415.0" r="4.4"/>
<circle cx="506.2" cy="409.1" r="2.7"/>
<circle cx="510.5" cy="409.2" r="4.4"/>
<circle cx="496.3" cy="422.5" r="4.1"/>
<circle cx="500.3" cy="417.9" r="4.3"/>
<circle cx="509.5" cy="414.8" r="4.3"/>
<circle cx="521.1" cy="417.5" r="3.9"/>
<circle cx="499.6" cy="413.0" r="3.3"/>
<circle cx="525.1" cy="423.0" r="3.6"/>
<circle cx="518.4" cy="414.4" r="3.6"/>
<circle cx="515.1" cy="422.5" r="3.0"/>
<circle cx="515.0" cy="419.7" r="3.4"/>
</g>
<g filter="url(#b05)" fill="none" stroke="#5f6e5c" stroke-width="1.0" stroke-opacity="0.45">
<circle cx="500.4" cy="413.4" r="2.6"/>
<circle cx="516.3" cy="406.5" r="3.0"/>
<circle cx="528.0" cy="421.3" r="3.2"/>
<circle cx="518.1" cy="433.3" r="2.3"/>
<circle cx="505.3" cy="419.7" r="2.2"/>
<circle cx="508.0" cy="409.0" r="2.2"/>
<circle cx="515.1" cy="421.4" r="2.2"/>
<circle cx="498.8" cy="417.9" r="2.8"/>
<circle cx="509.0" cy="420.6" r="2.8"/>
<circle cx="527.2" cy="412.5" r="2.1"/>
<circle cx="507.7" cy="432.9" r="2.9"/>
<circle cx="510.1" cy="420.0" r="2.3"/>
<circle cx="517.7" cy="415.1" r="2.1"/>
<circle cx="524.3" cy="410.1" r="2.2"/>
</g>
<g filter="url(#b1)" fill="#6a6a6a"><circle cx="487.5" cy="403.2" r="2.5"/><circle cx="497.5" cy="398.2" r="3"/></g>
<path d="M334.2,400.6 C334.9,399.4 335.4,398.4 337.0,397.8 C338.6,397.2 341.9,397.7 343.8,397.2 C345.7,396.7 346.4,395.3 348.3,394.9 C350.2,394.5 352.4,394.8 355.0,394.9 C357.6,395.0 362.2,394.8 364.0,395.5 C365.8,396.2 365.3,397.8 365.7,399.4 C366.1,401.0 366.9,403.8 366.3,405.1 C365.7,406.4 362.7,406.4 361.8,407.3 C360.9,408.2 360.3,408.8 360.7,410.7 C361.1,412.6 362.9,416.0 364.0,418.6 C365.1,421.2 366.6,423.9 367.4,426.5 C368.1,429.1 368.5,431.8 368.5,434.4 C368.5,437.0 368.7,440.4 367.4,442.3 C366.1,444.2 362.8,444.7 360.7,445.6 C358.6,446.5 357.3,447.2 355.0,447.9 C352.7,448.6 349.0,449.8 347.1,449.6 C345.2,449.4 344.6,448.2 343.8,446.8 C343.1,445.4 343.6,442.2 342.6,441.1 C341.7,440.0 339.2,441.3 338.1,440.0 C337.0,438.7 336.4,435.4 335.9,433.2 C335.4,430.9 336.0,428.8 335.3,426.5 C334.6,424.2 332.4,421.9 331.9,419.7 C331.4,417.4 332.4,415.4 332.5,413.0 C332.6,410.6 332.2,407.2 332.5,405.1 C332.8,403.0 333.4,401.8 334.2,400.6Z" fill="none" stroke="#e8e4dc" stroke-width="0.9"/>
<path d="M418.1,401.7 C419.6,400.1 421.1,399.3 422.6,398.9 C424.1,398.5 426.1,398.5 427.1,399.4 C428.1,400.3 427.9,403.5 428.8,404.5 C429.8,405.5 431.0,405.3 432.8,405.6 C434.6,405.9 437.4,405.8 439.5,406.2 C441.6,406.6 443.7,407.0 445.2,407.9 C446.7,408.8 447.4,410.6 448.5,411.8 C449.6,413.0 451.5,413.5 451.9,415.2 C452.3,416.9 451.6,419.9 450.8,422.0 C450.1,424.1 448.3,425.9 447.4,427.6 C446.5,429.3 446.9,431.0 445.2,432.1 C443.5,433.2 439.9,433.8 437.3,434.4 C434.7,435.0 432.0,434.9 429.4,435.5 C426.8,436.1 423.8,437.3 421.5,437.7 C419.2,438.1 417.8,438.4 415.9,437.7 C414.0,436.9 411.7,434.7 410.2,433.2 C408.7,431.7 407.3,430.2 406.9,428.7 C406.5,427.2 408.1,425.9 408.0,424.2 C407.9,422.5 406.1,420.5 406.3,418.6 C406.5,416.7 407.9,414.7 409.1,413.0 C410.3,411.3 412.1,410.4 413.6,408.5 C415.1,406.6 416.6,403.3 418.1,401.7Z" fill="none" stroke="#e8e4dc" stroke-width="0.9"/>
<path d="M496.1,405.1 C497.6,403.9 498.9,402.2 500.6,401.7 C502.3,401.2 504.5,401.8 506.2,402.3 C507.9,402.8 509.0,404.4 510.7,404.5 C512.4,404.6 514.2,403.2 516.3,402.8 C518.4,402.4 521.2,401.9 523.1,402.3 C525.0,402.7 526.3,403.9 527.6,405.1 C528.9,406.3 530.1,408.1 531.0,409.6 C531.9,411.1 532.4,412.8 533.2,414.1 C534.0,415.4 535.6,416.0 536.0,417.5 C536.4,419.0 536.2,421.4 535.4,423.1 C534.6,424.8 532.5,426.5 531.0,427.6 C529.5,428.7 527.5,428.8 526.4,429.9 C525.3,431.0 525.1,433.1 524.2,434.4 C523.3,435.7 522.1,436.8 520.8,437.7 C519.5,438.6 518.5,439.9 516.3,440.0 C514.0,440.1 509.9,438.7 507.3,438.3 C504.7,437.9 502.5,438.0 500.6,437.7 C498.7,437.4 497.2,437.7 496.1,436.6 C495.0,435.5 494.7,432.5 493.8,431.0 C492.9,429.5 491.4,429.1 490.5,427.6 C489.6,426.1 489.1,423.9 488.7,422.0 C488.3,420.1 488.2,418.0 488.2,416.3 C488.2,414.6 488.1,413.0 488.7,411.8 C489.2,410.6 490.3,410.1 491.5,409.0 C492.7,407.9 494.6,406.3 496.1,405.1Z" fill="none" stroke="#e8e4dc" stroke-width="0.9"/>
<line x1="312" y1="460.5" x2="547.7" y2="460.5" stroke="#555" stroke-width="1"/>
<text x="432.5" y="477" font-size="16" text-anchor="middle" fill="#1a1a1a" stroke="#1a1a1a" stroke-width="0.25" font-weight="normal" >AST</text>
<rect x="612.5" y="283.7" width="14" height="14" fill="url(#gmock)" stroke="#3f4b5c" stroke-width="1"/>
<text x="628.5" y="296.3" font-size="16" text-anchor="start" fill="#1a1a1a" stroke="#1a1a1a" stroke-width="0.25" font-weight="normal" >Mock</text>
<rect x="673.5" y="283.7" width="14" height="14" fill="url(#gast)" stroke="#6e4c46" stroke-width="1"/>
<text x="690" y="296.3" font-size="16" text-anchor="start" fill="#1a1a1a" stroke="#1a1a1a" stroke-width="0.25" font-weight="normal" >AST</text>
<rect x="651.8" y="363.1" width="16.5" height="96.0" fill="#a8bfe1" stroke="#404a5c" stroke-width="1.3"/>
<rect x="677.3" y="363.1" width="17.1" height="96.0" fill="#dce9ee" stroke="#6a7272" stroke-width="1.3"/>
<rect x="720.3" y="360.0" width="16.3" height="99.1" fill="#e2b1a1" stroke="#3a2c2a" stroke-width="1.3"/>
<rect x="746.1" y="415.4" width="16.5" height="43.7" fill="#f2e4d4" stroke="#2a2a2a" stroke-width="1.3"/>
<line x1="728.3" y1="359.2" x2="728.3" y2="343" stroke="#333" stroke-width="1"/><line x1="723.8" y1="343" x2="732.8" y2="343" stroke="#333" stroke-width="1"/>
<line x1="754.4" y1="415.4" x2="754.4" y2="412.7" stroke="#333" stroke-width="1"/><line x1="750" y1="412.7" x2="759" y2="412.7" stroke="#333" stroke-width="1"/>
<circle cx="654.4" cy="363" r="2.3" fill="#5a7ab4" stroke="#2f4a80" stroke-width="0.9"/>
<circle cx="659.4" cy="363" r="2.3" fill="#5a7ab4" stroke="#2f4a80" stroke-width="0.9"/>
<circle cx="664.4" cy="363" r="2.3" fill="#5a7ab4" stroke="#2f4a80" stroke-width="0.9"/>
<circle cx="681.2" cy="363" r="2.3" fill="none" stroke="#7f98b8" stroke-width="0.9"/>
<circle cx="686" cy="363" r="2.3" fill="none" stroke="#7f98b8" stroke-width="0.9"/>
<circle cx="690.8" cy="363" r="2.3" fill="none" stroke="#7f98b8" stroke-width="0.9"/>
<circle cx="727.7" cy="341" r="2.4" fill="none" stroke="#c05060" stroke-width="1.1"/>
<circle cx="723.5" cy="370.1" r="2.4" fill="none" stroke="#c05060" stroke-width="1.1"/>
<circle cx="731.9" cy="367.1" r="2.4" fill="none" stroke="#c05060" stroke-width="1.1"/>
<circle cx="748.8" cy="412.4" r="2.2" fill="none" stroke="#c05060" stroke-width="1.1"/>
<circle cx="757.8" cy="412.4" r="2.2" fill="none" stroke="#c05060" stroke-width="1.1"/>
<circle cx="749.4" cy="418.2" r="2.2" fill="none" stroke="#c05060" stroke-width="1.1"/>
<line x1="642.9" y1="315.1" x2="642.9" y2="459.1" stroke="#6a6a6a" stroke-width="1.4"/>
<line x1="642.9" y1="459.1" x2="766.4" y2="459.1" stroke="#333" stroke-width="1.1"/>
<line x1="633.5" y1="459.1" x2="642.9" y2="459.1" stroke="#333" stroke-width="1.1"/>
<text x="632.5" y="465.7" font-size="16" text-anchor="end" fill="#1a1a1a" stroke="#1a1a1a" stroke-width="0.25" font-weight="normal" >0.0</text>
<line x1="633.5" y1="411.1" x2="642.9" y2="411.1" stroke="#333" stroke-width="1.1"/>
<text x="632.5" y="417.7" font-size="16" text-anchor="end" fill="#1a1a1a" stroke="#1a1a1a" stroke-width="0.25" font-weight="normal" >0.5</text>
<line x1="633.5" y1="363.1" x2="642.9" y2="363.1" stroke="#333" stroke-width="1.1"/>
<text x="632.5" y="369.7" font-size="16" text-anchor="end" fill="#1a1a1a" stroke="#1a1a1a" stroke-width="0.25" font-weight="normal" >1.0</text>
<line x1="633.5" y1="315.1" x2="642.9" y2="315.1" stroke="#333" stroke-width="1.1"/>
<text x="632.5" y="321.7" font-size="16" text-anchor="end" fill="#1a1a1a" stroke="#1a1a1a" stroke-width="0.25" font-weight="normal" >1.5</text>
<text x="673" y="345.7" font-size="14.3" text-anchor="middle" fill="#1a1a1a" stroke="#1a1a1a" stroke-width="0.25" font-weight="normal" >ns</text>
<line x1="659.6" y1="350.8" x2="685.7" y2="350.8" stroke="#707070" stroke-width="1.6"/>
<path d="M741.30,320.80 L741.30,317.90 M741.30,320.80 L744.06,319.90 M741.30,320.80 L743.00,323.15 M741.30,320.80 L739.60,323.15 M741.30,320.80 L738.54,319.90 " stroke="#111" stroke-width="1.7" fill="none"/>
<line x1="728.7" y1="326.6" x2="753.5" y2="326.6" stroke="#666" stroke-width="1.5"/>
<text x="592" y="484" font-size="16" text-anchor="start" fill="#1a1a1a" stroke="#1a1a1a" stroke-width="0.25" font-weight="normal" >siHBA</text>
<text x="660.4" y="484" font-size="16" text-anchor="middle" fill="#1a1a1a" stroke="#1a1a1a" stroke-width="0" font-weight="bold" >-</text>
<text x="685.7" y="484" font-size="16" text-anchor="middle" fill="#1a1a1a" stroke="#1a1a1a" stroke-width="0" font-weight="bold" >+</text>
<text x="727.4" y="484" font-size="16" text-anchor="middle" fill="#1a1a1a" stroke="#1a1a1a" stroke-width="0" font-weight="bold" >-</text>
<text x="754" y="484" font-size="16" text-anchor="middle" fill="#1a1a1a" stroke="#1a1a1a" stroke-width="0" font-weight="bold" >+</text>
<text transform="translate(594.2,391.6) rotate(-90)" font-size="16" text-anchor="middle" fill="#1a1a1a" stroke="#1a1a1a" stroke-width="0.25" >Cell viability</text>
<text x="65.6" y="541" font-size="16" text-anchor="middle" fill="#1a1a1a" stroke="#1a1a1a" stroke-width="0.25" font-weight="normal" >Control</text>
<text x="144" y="541" font-size="16" text-anchor="middle" fill="#1a1a1a" stroke="#1a1a1a" stroke-width="0.25" font-weight="normal" >Hemin</text>
<text transform="translate(20.5,585.6) rotate(-90)" font-size="16" text-anchor="middle" fill="#70b452" stroke="#70b452" stroke-width="0.25" >ROS</text>
<text transform="translate(20.5,663.8) rotate(-90)" font-size="16" text-anchor="middle" fill="#1a1a1a" stroke="#1a1a1a" stroke-width="0.25" >Mer<tspan fill="#70b452" stroke="#70b452">ge</tspan></text>
<rect x="26" y="548" width="76.8" height="76.6" fill="#000"/>
<rect x="105.5" y="548" width="76.6" height="76.6" fill="#000"/>
<rect x="26" y="628.4" width="76.8" height="75.5" fill="#474747"/>
<rect x="105.5" y="628.4" width="76.6" height="75.5" fill="#474747"/>
<g filter="url(#b3)"><path d="M45.4,573.0 C46.7,572.0 47.8,572.0 49.7,571.8 C51.5,571.6 55.0,571.4 56.4,571.8 C57.8,572.1 57.6,572.7 58.1,573.9 C58.5,575.1 58.8,577.1 59.0,579.0 C59.2,580.8 59.5,583.0 59.3,584.8 C59.2,586.6 58.6,588.8 58.1,589.9 C57.6,591.1 56.6,590.9 56.4,591.6 C56.3,592.3 56.7,593.0 57.2,594.1 C57.8,595.2 59.4,596.7 59.8,598.4 C60.2,600.1 60.2,602.6 59.8,604.3 C59.4,606.0 58.5,607.6 57.2,608.5 C56.0,609.4 53.9,609.8 52.2,609.8 C50.5,609.8 48.7,609.4 47.1,608.5 C45.6,607.6 44.3,605.7 42.9,604.3 C41.5,602.9 39.5,601.5 38.6,600.0 C37.8,598.6 38.5,597.1 37.8,595.8 C37.1,594.6 35.1,593.9 34.4,592.5 C33.7,591.1 33.6,589.1 33.6,587.4 C33.6,585.7 33.7,583.6 34.4,582.3 C35.1,581.1 36.6,580.5 37.8,579.8 C39.1,579.1 40.8,579.2 42.0,578.1 C43.3,576.9 44.1,574.1 45.4,573.0Z" fill="#041004"/></g>
<path d="M44.2,567.4 C45.9,566.0 47.5,566.0 49.9,565.7 C52.3,565.4 57.0,565.2 58.9,565.7 C60.8,566.2 60.5,566.9 61.1,568.5 C61.7,570.1 62.0,572.9 62.3,575.3 C62.6,577.7 63.0,580.7 62.8,583.1 C62.6,585.5 61.8,588.4 61.1,589.9 C60.5,591.4 59.1,591.3 58.9,592.2 C58.7,593.1 59.2,594.0 60.0,595.5 C60.8,597.0 62.8,598.9 63.4,601.2 C64.0,603.5 64.0,606.9 63.4,609.1 C62.8,611.4 61.7,613.5 60.0,614.7 C58.3,615.9 55.5,616.4 53.3,616.4 C51.0,616.4 48.6,615.9 46.5,614.7 C44.4,613.5 42.8,611.0 40.9,609.1 C39.0,607.2 36.3,605.3 35.2,603.4 C34.1,601.5 35.0,599.5 34.1,597.8 C33.2,596.1 30.5,595.2 29.6,593.3 C28.7,591.4 28.5,588.8 28.5,586.5 C28.5,584.2 28.7,581.5 29.6,579.8 C30.5,578.1 32.4,577.3 34.1,576.4 C35.8,575.5 38.0,575.6 39.7,574.1 C41.4,572.6 42.5,568.8 44.2,567.4Z" fill="none" stroke="#e0dcd4" stroke-width="0.9"/>
<g filter="url(#b3)"><path d="M67.6,568.8 C68.4,567.2 70.6,566.7 72.2,565.9 C73.9,565.1 75.9,564.2 77.3,564.2 C78.7,564.2 79.6,565.2 80.7,565.9 C81.8,566.6 82.7,567.8 84.1,568.4 C85.5,569.1 87.6,569.0 89.2,569.7 C90.7,570.4 92.1,571.7 93.4,572.6 C94.6,573.6 96.3,574.3 96.8,575.6 C97.2,577.0 96.6,579.4 95.9,580.7 C95.2,581.9 93.3,582.2 92.6,583.2 C91.9,584.2 92.6,585.8 91.7,586.6 C90.9,587.4 89.3,587.8 87.5,587.9 C85.6,587.9 82.7,587.4 80.7,587.0 C78.7,586.7 77.2,586.1 75.6,585.8 C74.1,585.4 72.5,585.7 71.4,584.9 C70.3,584.0 69.6,582.2 68.9,580.7 C68.2,579.1 67.4,577.6 67.2,575.6 C67.0,573.7 66.7,570.4 67.6,568.8Z" fill="#041004"/></g>
<path d="M62.8,566.2 C63.9,564.0 66.8,563.3 69.0,562.3 C71.2,561.3 73.9,560.1 75.8,560.1 C77.7,560.1 78.8,561.4 80.3,562.3 C81.8,563.2 82.9,564.9 84.8,565.7 C86.7,566.6 89.5,566.5 91.6,567.4 C93.7,568.3 95.5,570.0 97.2,571.3 C98.9,572.6 101.1,573.5 101.7,575.3 C102.3,577.1 101.5,580.3 100.6,582.0 C99.7,583.7 97.0,584.1 96.1,585.4 C95.2,586.7 96.1,588.9 95.0,589.9 C93.9,590.9 91.8,591.5 89.3,591.6 C86.8,591.7 82.9,591.0 80.3,590.5 C77.7,590.0 75.6,589.3 73.5,588.8 C71.4,588.3 69.4,588.7 67.9,587.6 C66.4,586.5 65.4,584.0 64.5,582.0 C63.6,580.0 62.6,577.9 62.3,575.3 C62.0,572.7 61.7,568.4 62.8,566.2Z" fill="none" stroke="#e0dcd4" stroke-width="0.9"/>
<g filter="url(#b1)"><path d="M113.7,582.1 C113.7,580.5 115.0,578.3 116.3,576.5 C117.6,574.7 119.6,572.6 121.5,571.3 C123.4,570.0 125.4,569.4 127.6,568.7 C129.8,568.0 132.6,567.4 134.8,567.2 C137.0,567.0 139.1,567.3 141.0,567.7 C142.9,568.1 144.7,568.8 146.1,569.8 C147.5,570.8 148.6,571.9 149.2,573.4 C149.8,574.9 149.9,576.6 149.7,578.5 C149.5,580.4 149.0,582.8 148.2,584.7 C147.4,586.6 146.5,588.4 145.1,589.8 C143.7,591.2 141.9,592.1 140.0,592.9 C138.1,593.7 135.7,594.4 133.8,594.4 C131.9,594.4 129.7,593.8 128.7,592.9 C127.7,592.0 127.3,590.2 127.6,588.8 C127.9,587.4 130.5,585.7 130.7,584.7 C130.9,583.8 129.5,583.1 128.7,583.1 C127.8,583.1 126.8,584.1 125.6,584.7 C124.4,585.3 123.0,586.5 121.5,586.7 C120.0,587.0 117.6,587.0 116.3,586.2 C115.0,585.4 113.7,583.7 113.7,582.1Z" fill="#129412"/></g>
<g filter="url(#b1)">
<circle cx="137.5" cy="570.9" r="2.7" fill="#36e036" fill-opacity="0.59"/>
<circle cx="147.5" cy="578.2" r="2.1" fill="#36e036" fill-opacity="0.51"/>
<circle cx="134.8" cy="582.1" r="3.4" fill="#36e036" fill-opacity="0.85"/>
<circle cx="126.5" cy="572.7" r="3.2" fill="#36e036" fill-opacity="0.94"/>
<circle cx="145.0" cy="584.9" r="2.2" fill="#36e036" fill-opacity="0.82"/>
<circle cx="140.0" cy="572.5" r="2.9" fill="#36e036" fill-opacity="0.44"/>
<circle cx="125.7" cy="578.0" r="2.9" fill="#36e036" fill-opacity="0.84"/>
<circle cx="124.7" cy="572.0" r="2.9" fill="#36e036" fill-opacity="0.65"/>
<circle cx="138.0" cy="569.7" r="2.1" fill="#36e036" fill-opacity="0.90"/>
<circle cx="135.4" cy="586.1" r="2.0" fill="#36e036" fill-opacity="0.56"/>
<circle cx="130.1" cy="589.0" r="2.6" fill="#36e036" fill-opacity="0.81"/>
<circle cx="133.9" cy="570.4" r="2.0" fill="#36e036" fill-opacity="0.94"/>
<circle cx="144.4" cy="580.1" r="2.6" fill="#36e036" fill-opacity="0.81"/>
<circle cx="123.7" cy="577.3" r="2.8" fill="#36e036" fill-opacity="0.71"/>
<circle cx="141.3" cy="574.1" r="3.1" fill="#36e036" fill-opacity="0.94"/>
<circle cx="127.2" cy="574.9" r="2.1" fill="#36e036" fill-opacity="0.33"/>
<circle cx="143.2" cy="575.3" r="2.1" fill="#36e036" fill-opacity="0.60"/>
<circle cx="138.7" cy="581.5" r="3.3" fill="#36e036" fill-opacity="0.56"/>
<circle cx="132.6" cy="586.7" r="2.6" fill="#36e036" fill-opacity="0.77"/>
<circle cx="130.5" cy="570.8" r="2.0" fill="#36e036" fill-opacity="0.81"/>
<circle cx="138.5" cy="583.0" r="2.1" fill="#36e036" fill-opacity="0.85"/>
<circle cx="118.0" cy="578.8" r="2.0" fill="#36e036" fill-opacity="0.55"/>
<circle cx="124.8" cy="578.8" r="3.0" fill="#36e036" fill-opacity="0.65"/>
<circle cx="140.2" cy="589.7" r="1.9" fill="#36e036" fill-opacity="0.70"/>
<circle cx="145.9" cy="574.2" r="2.1" fill="#36e036" fill-opacity="0.83"/>
<circle cx="126.8" cy="578.1" r="3.2" fill="#36e036" fill-opacity="0.55"/>
<circle cx="136.2" cy="580.2" r="2.6" fill="#36e036" fill-opacity="0.91"/>
<circle cx="123.7" cy="572.1" r="1.9" fill="#36e036" fill-opacity="0.61"/>
<circle cx="124.4" cy="580.1" r="1.8" fill="#36e036" fill-opacity="0.30"/>
<circle cx="134.6" cy="578.2" r="3.1" fill="#36e036" fill-opacity="0.45"/>
<circle cx="135.5" cy="590.2" r="2.7" fill="#36e036" fill-opacity="0.51"/>
<circle cx="117.2" cy="582.8" r="2.1" fill="#36e036" fill-opacity="0.54"/>
<circle cx="133.2" cy="592.8" r="2.9" fill="#36e036" fill-opacity="0.64"/>
<circle cx="144.6" cy="575.6" r="2.5" fill="#36e036" fill-opacity="0.74"/>
<circle cx="133.7" cy="573.2" r="2.5" fill="#36e036" fill-opacity="0.84"/>
<circle cx="138.3" cy="576.0" r="3.5" fill="#36e036" fill-opacity="0.82"/>
<circle cx="128.4" cy="581.8" r="2.5" fill="#36e036" fill-opacity="0.39"/>
<circle cx="129.5" cy="580.3" r="2.6" fill="#36e036" fill-opacity="0.75"/>
<circle cx="139.9" cy="576.4" r="2.1" fill="#36e036" fill-opacity="0.36"/>
<circle cx="134.2" cy="591.9" r="2.3" fill="#36e036" fill-opacity="0.55"/>
</g>
<g filter="url(#b1)">
<circle cx="133.5" cy="587.6" r="1.9" fill="#0a500a" fill-opacity="0.76"/>
<circle cx="134.1" cy="587.5" r="2.0" fill="#0a500a" fill-opacity="0.78"/>
<circle cx="123.6" cy="577.2" r="1.9" fill="#0a500a" fill-opacity="0.68"/>
<circle cx="140.7" cy="577.1" r="2.2" fill="#0a500a" fill-opacity="0.50"/>
<circle cx="139.7" cy="577.4" r="1.2" fill="#0a500a" fill-opacity="0.70"/>
<circle cx="131.5" cy="577.9" r="1.6" fill="#0a500a" fill-opacity="0.58"/>
<circle cx="131.8" cy="587.8" r="2.1" fill="#0a500a" fill-opacity="0.75"/>
<circle cx="137.8" cy="582.1" r="1.3" fill="#0a500a" fill-opacity="0.61"/>
</g>
<g filter="url(#b1)"><path d="M146.1,592.9 C146.3,591.5 147.6,590.6 149.2,589.8 C150.8,589.0 153.2,588.3 155.4,588.3 C157.6,588.3 160.0,589.2 162.6,589.8 C165.2,590.4 168.4,591.0 170.8,591.9 C173.2,592.8 175.6,593.6 177.0,595.0 C178.4,596.4 179.0,598.4 179.0,600.1 C179.0,601.8 178.4,604.0 177.0,605.2 C175.6,606.4 173.0,606.9 170.8,607.3 C168.6,607.7 165.7,608.1 163.6,607.8 C161.5,607.4 160.2,606.3 158.5,605.2 C156.8,604.1 155.0,602.3 153.3,601.1 C151.6,599.9 149.4,599.4 148.2,598.0 C147.0,596.6 145.9,594.3 146.1,592.9Z" fill="#129412"/></g>
<g filter="url(#b1)">
<circle cx="162.4" cy="602.3" r="2.0" fill="#36e036" fill-opacity="0.63"/>
<circle cx="173.8" cy="598.5" r="3.4" fill="#36e036" fill-opacity="0.87"/>
<circle cx="173.8" cy="604.6" r="3.4" fill="#36e036" fill-opacity="0.43"/>
<circle cx="157.7" cy="591.5" r="2.3" fill="#36e036" fill-opacity="0.90"/>
<circle cx="170.4" cy="599.4" r="2.8" fill="#36e036" fill-opacity="0.80"/>
<circle cx="165.4" cy="592.8" r="2.4" fill="#36e036" fill-opacity="0.46"/>
<circle cx="161.8" cy="604.1" r="2.6" fill="#36e036" fill-opacity="0.76"/>
<circle cx="156.0" cy="595.8" r="2.1" fill="#36e036" fill-opacity="0.32"/>
<circle cx="174.5" cy="600.4" r="2.7" fill="#36e036" fill-opacity="0.63"/>
<circle cx="153.5" cy="595.6" r="3.0" fill="#36e036" fill-opacity="0.43"/>
<circle cx="174.1" cy="598.2" r="2.8" fill="#36e036" fill-opacity="0.83"/>
<circle cx="171.8" cy="594.5" r="3.4" fill="#36e036" fill-opacity="0.90"/>
<circle cx="156.6" cy="591.5" r="2.4" fill="#36e036" fill-opacity="0.35"/>
<circle cx="165.3" cy="597.7" r="3.3" fill="#36e036" fill-opacity="0.55"/>
<circle cx="169.8" cy="601.5" r="3.1" fill="#36e036" fill-opacity="0.55"/>
<circle cx="149.9" cy="594.5" r="3.4" fill="#36e036" fill-opacity="0.94"/>
<circle cx="153.7" cy="596.9" r="2.6" fill="#36e036" fill-opacity="0.89"/>
<circle cx="154.4" cy="599.0" r="2.0" fill="#36e036" fill-opacity="0.35"/>
<circle cx="175.2" cy="598.1" r="3.5" fill="#36e036" fill-opacity="0.86"/>
<circle cx="156.6" cy="602.2" r="2.7" fill="#36e036" fill-opacity="0.42"/>
<circle cx="162.9" cy="603.0" r="2.1" fill="#36e036" fill-opacity="0.36"/>
<circle cx="169.9" cy="606.2" r="2.4" fill="#36e036" fill-opacity="0.61"/>
<circle cx="167.0" cy="598.4" r="2.0" fill="#36e036" fill-opacity="0.48"/>
<circle cx="152.9" cy="592.1" r="1.9" fill="#36e036" fill-opacity="0.55"/>
<circle cx="161.7" cy="598.7" r="2.0" fill="#36e036" fill-opacity="0.65"/>
<circle cx="171.1" cy="597.0" r="2.2" fill="#36e036" fill-opacity="0.90"/>
<circle cx="160.8" cy="591.2" r="3.1" fill="#36e036" fill-opacity="0.57"/>
<circle cx="172.4" cy="600.2" r="2.8" fill="#36e036" fill-opacity="0.35"/>
<circle cx="163.3" cy="597.9" r="2.6" fill="#36e036" fill-opacity="0.31"/>
<circle cx="175.5" cy="597.9" r="2.5" fill="#36e036" fill-opacity="0.86"/>
<circle cx="174.4" cy="602.3" r="3.3" fill="#36e036" fill-opacity="0.53"/>
<circle cx="149.5" cy="595.1" r="2.8" fill="#36e036" fill-opacity="0.81"/>
<circle cx="170.3" cy="600.6" r="2.8" fill="#36e036" fill-opacity="0.73"/>
<circle cx="164.1" cy="593.7" r="1.9" fill="#36e036" fill-opacity="0.70"/>
<circle cx="168.1" cy="600.5" r="3.0" fill="#36e036" fill-opacity="0.87"/>
<circle cx="166.4" cy="595.1" r="2.5" fill="#36e036" fill-opacity="0.74"/>
<circle cx="174.1" cy="602.1" r="2.5" fill="#36e036" fill-opacity="0.80"/>
<circle cx="151.6" cy="590.8" r="2.6" fill="#36e036" fill-opacity="0.66"/>
<circle cx="167.0" cy="596.9" r="2.7" fill="#36e036" fill-opacity="0.91"/>
<circle cx="170.2" cy="593.5" r="2.0" fill="#36e036" fill-opacity="0.79"/>
</g>
<g filter="url(#b1)">
<circle cx="160.3" cy="599.2" r="1.7" fill="#0a500a" fill-opacity="0.67"/>
<circle cx="171.3" cy="598.5" r="1.4" fill="#0a500a" fill-opacity="0.71"/>
<circle cx="159.8" cy="595.6" r="1.4" fill="#0a500a" fill-opacity="0.65"/>
<circle cx="153.9" cy="598.2" r="1.8" fill="#0a500a" fill-opacity="0.59"/>
<circle cx="153.8" cy="592.3" r="1.4" fill="#0a500a" fill-opacity="0.52"/>
<circle cx="154.0" cy="595.6" r="2.1" fill="#0a500a" fill-opacity="0.66"/>
<circle cx="166.7" cy="595.1" r="1.4" fill="#0a500a" fill-opacity="0.67"/>
<circle cx="168.8" cy="595.2" r="1.3" fill="#0a500a" fill-opacity="0.54"/>
</g>
<g filter="url(#b1)"><circle cx="124.0" cy="606.3" r="2.5" fill="#0a3a0a"/></g>
<line x1="164.6" y1="570.3" x2="156.3" y2="574.7" stroke="#fff" stroke-width="2.2"/>
<path d="M152.3,577 l2.2,-6.3 l3.8,6.2 z" fill="#fff"/>
<g filter="url(#b1)"><path d="M44.9,653.2 C46.4,652.0 47.7,652.0 49.8,651.7 C51.8,651.5 55.8,651.3 57.4,651.7 C59.0,652.1 58.8,652.8 59.3,654.1 C59.8,655.5 60.1,657.8 60.3,659.9 C60.5,662.0 60.9,664.5 60.7,666.5 C60.6,668.6 59.8,671.0 59.3,672.3 C58.7,673.6 57.6,673.5 57.4,674.3 C57.3,675.1 57.7,675.8 58.3,677.1 C59.0,678.3 60.8,680.0 61.2,681.9 C61.7,683.8 61.7,686.7 61.2,688.6 C60.8,690.5 59.8,692.4 58.3,693.4 C56.9,694.4 54.6,694.8 52.7,694.8 C50.7,694.8 48.6,694.4 46.9,693.4 C45.1,692.4 43.7,690.2 42.1,688.6 C40.5,687.0 38.2,685.4 37.3,683.8 C36.3,682.2 37.1,680.5 36.3,679.0 C35.5,677.6 33.3,676.8 32.5,675.2 C31.7,673.6 31.6,671.3 31.6,669.4 C31.6,667.5 31.7,665.2 32.5,663.7 C33.3,662.3 34.9,661.6 36.3,660.8 C37.8,660.0 39.7,660.2 41.1,658.9 C42.5,657.6 43.5,654.4 44.9,653.2Z" fill="#535853"/></g>
<path d="M44.3,650.3 C46.0,648.9 47.5,648.9 49.9,648.6 C52.3,648.3 56.9,648.1 58.7,648.6 C60.5,649.0 60.3,649.8 60.9,651.3 C61.4,652.9 61.8,655.6 62.0,658.0 C62.3,660.4 62.7,663.3 62.5,665.6 C62.3,668.0 61.5,670.8 60.9,672.3 C60.2,673.8 58.9,673.6 58.7,674.6 C58.5,675.5 59.0,676.3 59.8,677.8 C60.5,679.3 62.6,681.2 63.1,683.4 C63.7,685.6 63.7,688.9 63.1,691.1 C62.6,693.3 61.4,695.4 59.8,696.6 C58.1,697.8 55.4,698.3 53.2,698.3 C51.0,698.3 48.6,697.8 46.5,696.6 C44.5,695.4 42.9,693.0 41.1,691.1 C39.2,689.3 36.6,687.4 35.5,685.5 C34.4,683.7 35.3,681.7 34.4,680.0 C33.5,678.4 30.9,677.5 30.0,675.6 C29.1,673.8 28.9,671.2 28.9,669.0 C28.9,666.8 29.1,664.1 30.0,662.4 C30.9,660.8 32.7,660.0 34.4,659.1 C36.0,658.1 38.2,658.3 39.9,656.8 C41.5,655.3 42.6,651.6 44.3,650.3Z" fill="none" stroke="#707070" stroke-width="0.7"/>
<path d="M44.9,653.0 C46.3,651.8 47.7,651.7 49.8,651.5 C51.9,651.3 55.9,651.1 57.5,651.5 C59.1,651.9 58.9,652.5 59.4,653.9 C59.9,655.3 60.2,657.7 60.4,659.8 C60.7,661.8 61.0,664.4 60.9,666.5 C60.7,668.6 60.0,671.0 59.4,672.3 C58.8,673.6 57.7,673.5 57.5,674.3 C57.4,675.1 57.8,675.8 58.5,677.1 C59.1,678.4 60.9,680.1 61.4,682.0 C61.9,684.0 61.9,686.9 61.4,688.8 C60.9,690.8 59.9,692.6 58.5,693.6 C57.0,694.7 54.6,695.1 52.7,695.1 C50.8,695.1 48.6,694.7 46.8,693.6 C45.1,692.6 43.7,690.4 42.0,688.8 C40.4,687.2 38.1,685.5 37.1,683.9 C36.2,682.3 37.0,680.6 36.2,679.1 C35.4,677.7 33.1,676.9 32.3,675.2 C31.5,673.6 31.4,671.3 31.4,669.4 C31.4,667.5 31.5,665.1 32.3,663.6 C33.1,662.2 34.7,661.5 36.2,660.7 C37.6,659.9 39.6,660.0 41.0,658.7 C42.4,657.4 43.4,654.2 44.9,653.0Z" fill="none" stroke="#9a9c98" stroke-width="0.9"/>
<g filter="url(#b1)"><path d="M65.7,650.2 C66.6,648.3 69.1,647.7 70.9,646.9 C72.8,646.0 75.1,645.0 76.7,645.0 C78.3,645.0 79.3,646.1 80.5,646.9 C81.8,647.7 82.8,649.0 84.4,649.7 C86.0,650.5 88.4,650.4 90.1,651.2 C91.9,652.0 93.5,653.4 94.9,654.5 C96.3,655.6 98.3,656.4 98.7,657.9 C99.2,659.4 98.6,662.2 97.8,663.6 C97.0,665.0 94.8,665.4 94.0,666.5 C93.2,667.6 94.0,669.4 93.0,670.3 C92.1,671.2 90.3,671.7 88.2,671.8 C86.1,671.8 82.8,671.2 80.5,670.8 C78.3,670.4 76.5,669.8 74.8,669.4 C73.0,669.0 71.3,669.3 70.0,668.4 C68.7,667.4 67.9,665.3 67.1,663.6 C66.3,661.9 65.5,660.1 65.2,657.9 C65.0,655.7 64.7,652.0 65.7,650.2Z" fill="#535853"/></g>
<path d="M63.2,648.8 C64.3,646.7 67.1,646.0 69.3,645.0 C71.4,644.0 74.1,642.8 75.9,642.8 C77.8,642.8 78.9,644.1 80.3,645.0 C81.8,645.9 82.9,647.5 84.7,648.3 C86.6,649.2 89.4,649.1 91.4,650.0 C93.4,650.9 95.2,652.5 96.9,653.8 C98.5,655.1 100.7,656.0 101.3,657.7 C101.9,659.5 101.1,662.6 100.2,664.3 C99.3,665.9 96.7,666.3 95.8,667.6 C94.9,668.9 95.8,671.0 94.7,672.0 C93.6,673.0 91.6,673.6 89.2,673.7 C86.8,673.8 82.9,673.1 80.3,672.6 C77.8,672.2 75.7,671.4 73.7,671.0 C71.6,670.5 69.7,670.9 68.2,669.8 C66.7,668.7 65.8,666.3 64.8,664.3 C63.9,662.3 63.0,660.3 62.7,657.7 C62.4,655.1 62.1,650.9 63.2,648.8Z" fill="none" stroke="#707070" stroke-width="0.7"/>
<path d="M65.5,650.1 C66.4,648.2 68.9,647.6 70.8,646.7 C72.7,645.8 75.0,644.8 76.7,644.8 C78.3,644.8 79.2,645.9 80.5,646.7 C81.8,647.5 82.8,648.9 84.4,649.6 C86.0,650.4 88.5,650.3 90.2,651.1 C92.0,651.9 93.6,653.3 95.1,654.5 C96.5,655.6 98.4,656.4 98.9,657.9 C99.4,659.4 98.8,662.2 98.0,663.7 C97.2,665.1 94.9,665.4 94.1,666.6 C93.3,667.7 94.1,669.6 93.2,670.5 C92.2,671.3 90.4,671.8 88.3,671.9 C86.2,672.0 82.8,671.4 80.5,671.0 C78.3,670.6 76.5,669.9 74.7,669.5 C72.9,669.1 71.2,669.4 69.9,668.5 C68.6,667.5 67.7,665.4 66.9,663.7 C66.1,661.9 65.3,660.2 65.0,657.9 C64.8,655.6 64.5,651.9 65.5,650.1Z" fill="none" stroke="#9a9c98" stroke-width="0.9"/>
<g filter="url(#b05)" fill="none" stroke="#a8aea6" stroke-width="0.9" stroke-opacity="0.6">
<circle cx="42.5" cy="661.1" r="2.0"/>
<circle cx="52.2" cy="675.8" r="2.3"/>
<circle cx="53.5" cy="676.8" r="2.9"/>
<circle cx="51.3" cy="688.8" r="2.4"/>
<circle cx="53.3" cy="658.2" r="2.7"/>
<circle cx="57.8" cy="688.9" r="2.1"/>
<circle cx="53.4" cy="683.9" r="2.0"/>
<circle cx="51.6" cy="656.2" r="3.1"/>
<circle cx="50.0" cy="678.3" r="2.1"/>
<circle cx="58.4" cy="689.2" r="2.2"/>
<circle cx="43.3" cy="680.8" r="2.5"/>
<circle cx="34.8" cy="671.4" r="2.8"/>
<circle cx="43.9" cy="684.5" r="2.6"/>
<circle cx="58.2" cy="680.4" r="2.3"/>
<circle cx="58.0" cy="684.8" r="2.0"/>
<circle cx="51.3" cy="656.4" r="3.0"/>
<circle cx="51.1" cy="684.7" r="2.7"/>
<circle cx="44.3" cy="684.0" r="2.8"/>
<circle cx="43.4" cy="671.1" r="3.2"/>
<circle cx="52.1" cy="663.2" r="3.1"/>
<circle cx="54.1" cy="683.9" r="2.1"/>
<circle cx="48.4" cy="657.6" r="2.3"/>
<circle cx="49.4" cy="683.1" r="2.6"/>
<circle cx="58.6" cy="688.0" r="1.8"/>
<circle cx="50.6" cy="673.9" r="2.7"/>
<circle cx="46.6" cy="677.7" r="2.3"/>
</g>
<g filter="url(#b05)" fill="none" stroke="#a8aea6" stroke-width="0.9" stroke-opacity="0.6">
<circle cx="74.0" cy="650.5" r="2.8"/>
<circle cx="88.3" cy="669.5" r="1.9"/>
<circle cx="72.0" cy="658.5" r="1.8"/>
<circle cx="71.3" cy="662.6" r="2.6"/>
<circle cx="72.1" cy="660.9" r="2.9"/>
<circle cx="89.0" cy="653.8" r="2.0"/>
<circle cx="94.3" cy="661.3" r="2.9"/>
<circle cx="90.1" cy="659.4" r="3.2"/>
<circle cx="77.7" cy="659.8" r="3.0"/>
<circle cx="86.2" cy="668.6" r="2.6"/>
<circle cx="72.3" cy="652.4" r="1.9"/>
<circle cx="74.1" cy="662.2" r="2.3"/>
<circle cx="77.4" cy="650.1" r="2.2"/>
<circle cx="87.0" cy="659.9" r="2.8"/>
<circle cx="75.4" cy="651.7" r="2.1"/>
<circle cx="75.4" cy="662.7" r="2.4"/>
<circle cx="73.7" cy="651.2" r="2.6"/>
<circle cx="73.6" cy="660.7" r="3.1"/>
<circle cx="78.4" cy="650.4" r="3.2"/>
<circle cx="86.5" cy="666.6" r="2.4"/>
<circle cx="88.4" cy="659.4" r="2.2"/>
<circle cx="79.7" cy="657.0" r="3.1"/>
<circle cx="82.0" cy="649.2" r="3.1"/>
<circle cx="86.9" cy="661.4" r="2.0"/>
<circle cx="91.3" cy="659.5" r="2.9"/>
<circle cx="91.2" cy="665.9" r="2.0"/>
</g>
<g filter="url(#b05)"><path d="M112.8,662.5 C112.8,660.8 114.1,658.6 115.5,656.7 C116.9,654.8 119.0,652.6 121.0,651.2 C122.9,649.8 125.0,649.2 127.4,648.5 C129.7,647.8 132.6,647.1 134.9,646.9 C137.3,646.7 139.5,647.0 141.4,647.4 C143.4,647.9 145.4,648.6 146.8,649.6 C148.2,650.6 149.4,651.9 150.0,653.4 C150.7,654.9 150.7,656.8 150.6,658.8 C150.4,660.7 149.8,663.3 149.0,665.3 C148.2,667.3 147.2,669.2 145.7,670.6 C144.3,672.1 142.4,673.1 140.4,673.9 C138.4,674.7 135.9,675.5 133.9,675.5 C131.9,675.5 129.6,674.9 128.5,673.9 C127.4,672.9 127.0,671.0 127.4,669.6 C127.7,668.1 130.4,666.3 130.6,665.3 C130.8,664.3 129.4,663.6 128.5,663.6 C127.6,663.6 126.5,664.6 125.3,665.3 C124.0,665.9 122.6,667.1 121.0,667.4 C119.3,667.6 116.9,667.7 115.5,666.8 C114.1,666.0 112.8,664.2 112.8,662.5Z" fill="#4fa84f" stroke="#a8b0a0" stroke-width="1.5"/></g>
<g filter="url(#b05)">
<circle cx="122.5" cy="661.3" r="2.2" fill="#60e060" fill-opacity="0.81"/>
<circle cx="122.0" cy="662.6" r="3.4" fill="#60e060" fill-opacity="0.60"/>
<circle cx="133.4" cy="664.7" r="2.9" fill="#60e060" fill-opacity="0.58"/>
<circle cx="130.9" cy="669.8" r="2.3" fill="#60e060" fill-opacity="0.71"/>
<circle cx="129.5" cy="670.4" r="2.7" fill="#60e060" fill-opacity="0.85"/>
<circle cx="135.0" cy="652.4" r="3.5" fill="#60e060" fill-opacity="0.63"/>
<circle cx="128.6" cy="653.1" r="3.4" fill="#60e060" fill-opacity="0.46"/>
<circle cx="146.2" cy="662.6" r="2.3" fill="#60e060" fill-opacity="0.58"/>
<circle cx="129.9" cy="650.8" r="3.1" fill="#60e060" fill-opacity="0.73"/>
<circle cx="133.1" cy="661.8" r="3.2" fill="#60e060" fill-opacity="0.86"/>
<circle cx="134.6" cy="662.9" r="3.3" fill="#60e060" fill-opacity="0.51"/>
<circle cx="139.9" cy="663.6" r="2.3" fill="#60e060" fill-opacity="0.89"/>
<circle cx="133.0" cy="663.8" r="3.5" fill="#60e060" fill-opacity="0.68"/>
<circle cx="145.6" cy="655.6" r="2.7" fill="#60e060" fill-opacity="0.47"/>
<circle cx="136.7" cy="659.1" r="3.2" fill="#60e060" fill-opacity="0.46"/>
<circle cx="138.1" cy="667.3" r="2.8" fill="#60e060" fill-opacity="0.65"/>
<circle cx="139.0" cy="665.8" r="3.1" fill="#60e060" fill-opacity="0.64"/>
<circle cx="127.6" cy="656.3" r="2.9" fill="#60e060" fill-opacity="0.73"/>
<circle cx="138.4" cy="662.6" r="2.6" fill="#60e060" fill-opacity="0.77"/>
<circle cx="125.4" cy="664.1" r="2.0" fill="#60e060" fill-opacity="0.47"/>
</g>
<g filter="url(#b05)" fill="none" stroke="#c0e8b8" stroke-width="0.8" stroke-opacity="0.45">
<circle cx="131.5" cy="662.7" r="2.9"/>
<circle cx="125.2" cy="656.3" r="2.8"/>
<circle cx="131.2" cy="657.4" r="2.4"/>
<circle cx="125.6" cy="652.2" r="2.7"/>
<circle cx="136.6" cy="656.8" r="2.4"/>
<circle cx="124.4" cy="655.5" r="3.2"/>
<circle cx="135.9" cy="668.3" r="2.7"/>
<circle cx="123.0" cy="658.7" r="2.0"/>
<circle cx="121.5" cy="664.5" r="2.7"/>
<circle cx="128.9" cy="658.4" r="2.0"/>
<circle cx="138.4" cy="665.3" r="2.7"/>
<circle cx="127.0" cy="653.1" r="2.3"/>
<circle cx="144.4" cy="660.3" r="2.4"/>
<circle cx="142.7" cy="652.5" r="2.7"/>
<circle cx="140.3" cy="654.1" r="2.1"/>
<circle cx="144.0" cy="663.1" r="2.4"/>
<circle cx="131.2" cy="654.6" r="2.1"/>
<circle cx="119.3" cy="657.7" r="2.0"/>
</g>
<g filter="url(#b05)"><path d="M145.3,673.1 C145.5,671.6 146.9,670.6 148.5,669.8 C150.2,669.0 152.7,668.2 155.0,668.2 C157.4,668.2 159.9,669.2 162.6,669.8 C165.3,670.4 168.7,671.1 171.2,672.0 C173.7,672.9 176.3,673.8 177.7,675.3 C179.2,676.7 179.8,678.8 179.8,680.6 C179.8,682.4 179.2,684.7 177.7,686.0 C176.3,687.2 173.6,687.7 171.2,688.2 C168.9,688.6 165.8,689.1 163.7,688.7 C161.5,688.3 160.1,687.1 158.3,686.0 C156.5,684.8 154.6,682.9 152.8,681.7 C151.0,680.4 148.7,679.8 147.5,678.4 C146.2,677.0 145.1,674.5 145.3,673.1Z" fill="#4fa84f" stroke="#a8b0a0" stroke-width="1.5"/></g>
<g filter="url(#b05)">
<circle cx="170.0" cy="678.1" r="3.4" fill="#60e060" fill-opacity="0.60"/>
<circle cx="152.1" cy="675.4" r="2.9" fill="#60e060" fill-opacity="0.42"/>
<circle cx="153.7" cy="674.1" r="3.2" fill="#60e060" fill-opacity="0.61"/>
<circle cx="165.0" cy="681.8" r="3.3" fill="#60e060" fill-opacity="0.67"/>
<circle cx="163.5" cy="672.2" r="2.1" fill="#60e060" fill-opacity="0.49"/>
<circle cx="169.0" cy="684.5" r="3.0" fill="#60e060" fill-opacity="0.61"/>
<circle cx="167.6" cy="679.0" r="2.7" fill="#60e060" fill-opacity="0.49"/>
<circle cx="156.2" cy="679.5" r="2.6" fill="#60e060" fill-opacity="0.67"/>
<circle cx="170.6" cy="683.9" r="2.2" fill="#60e060" fill-opacity="0.88"/>
<circle cx="174.2" cy="684.7" r="2.7" fill="#60e060" fill-opacity="0.88"/>
<circle cx="168.7" cy="685.3" r="3.1" fill="#60e060" fill-opacity="0.85"/>
<circle cx="163.5" cy="681.8" r="2.1" fill="#60e060" fill-opacity="0.73"/>
<circle cx="163.1" cy="671.7" r="3.1" fill="#60e060" fill-opacity="0.70"/>
<circle cx="162.6" cy="681.8" r="2.2" fill="#60e060" fill-opacity="0.63"/>
<circle cx="156.7" cy="672.8" r="2.4" fill="#60e060" fill-opacity="0.82"/>
<circle cx="152.4" cy="679.4" r="2.5" fill="#60e060" fill-opacity="0.84"/>
<circle cx="155.8" cy="672.0" r="2.6" fill="#60e060" fill-opacity="0.44"/>
<circle cx="156.9" cy="672.3" r="3.4" fill="#60e060" fill-opacity="0.53"/>
<circle cx="172.3" cy="682.0" r="2.8" fill="#60e060" fill-opacity="0.72"/>
<circle cx="165.2" cy="685.1" r="3.0" fill="#60e060" fill-opacity="0.53"/>
</g>
<g filter="url(#b05)" fill="none" stroke="#c0e8b8" stroke-width="0.8" stroke-opacity="0.45">
<circle cx="157.8" cy="678.6" r="2.0"/>
<circle cx="161.6" cy="678.8" r="2.9"/>
<circle cx="157.4" cy="680.2" r="2.0"/>
<circle cx="164.1" cy="679.7" r="2.7"/>
<circle cx="157.4" cy="677.7" r="3.1"/>
<circle cx="156.2" cy="674.4" r="2.4"/>
<circle cx="168.8" cy="674.2" r="2.0"/>
<circle cx="170.2" cy="679.9" r="2.6"/>
<circle cx="149.4" cy="675.8" r="3.1"/>
<circle cx="158.3" cy="679.7" r="3.1"/>
<circle cx="157.4" cy="676.5" r="2.8"/>
<circle cx="157.4" cy="677.9" r="2.3"/>
<circle cx="173.2" cy="678.8" r="1.9"/>
<circle cx="153.4" cy="679.1" r="2.3"/>
<circle cx="159.6" cy="681.5" r="2.2"/>
<circle cx="173.7" cy="676.6" r="1.9"/>
<circle cx="154.6" cy="676.0" r="2.1"/>
<circle cx="159.4" cy="684.0" r="2.5"/>
</g>
<circle cx="121.3" cy="685.6999999999999" r="3.5" fill="none" stroke="#9a9a94" stroke-width="1.2"/>
<line x1="25.6" y1="708.5" x2="183" y2="708.5" stroke="#555" stroke-width="1"/>
<text x="102.4" y="725.3" font-size="16" text-anchor="middle" fill="#1a1a1a" stroke="#1a1a1a" stroke-width="0.25" font-weight="normal" >AST</text>
<line x1="257.9" y1="534.8" x2="285.8" y2="534.8" stroke="#9fbde4" stroke-width="1"/>
<circle cx="271.9" cy="534.8" r="3.6" fill="#8fb0e0"/>
<text x="302" y="541.7" font-size="16" text-anchor="start" fill="#1a1a1a" stroke="#1a1a1a" stroke-width="0.25" font-weight="normal" >Mock</text>
<line x1="349.6" y1="534.9" x2="377.9" y2="534.9" stroke="#f4c4c0" stroke-width="1"/>
<rect x="360" y="531" width="7.6" height="7.8" fill="#f4b8b8"/>
<text x="386.3" y="541.7" font-size="16" text-anchor="start" fill="#1a1a1a" stroke="#1a1a1a" stroke-width="0.25" font-weight="normal" >4AST</text>
<line x1="316.3" y1="568.505" x2="316.3" y2="697.1" stroke="#333" stroke-width="1.1"/>
<line x1="316.3" y1="697.1" x2="464" y2="697.1" stroke="#333" stroke-width="1.1"/>
<line x1="306" y1="697.1" x2="316.3" y2="697.1" stroke="#333" stroke-width="1.1"/>
<text x="305" y="703.1" font-size="16" text-anchor="end" fill="#1a1a1a" stroke="#1a1a1a" stroke-width="0.25" font-weight="normal" >0.0</text>
<line x1="306" y1="654.2" x2="316.3" y2="654.2" stroke="#333" stroke-width="1.1"/>
<text x="305" y="660.2" font-size="16" text-anchor="end" fill="#1a1a1a" stroke="#1a1a1a" stroke-width="0.25" font-weight="normal" >0.5</text>
<line x1="306" y1="611.4" x2="316.3" y2="611.4" stroke="#333" stroke-width="1.1"/>
<text x="305" y="617.4" font-size="16" text-anchor="end" fill="#1a1a1a" stroke="#1a1a1a" stroke-width="0.25" font-weight="normal" >1.0</text>
<line x1="306" y1="568.5" x2="316.3" y2="568.5" stroke="#333" stroke-width="1.1"/>
<text x="305" y="574.5" font-size="16" text-anchor="end" fill="#1a1a1a" stroke="#1a1a1a" stroke-width="0.25" font-weight="normal" >1.5</text>
<line x1="345.4" y1="697.1" x2="345.4" y2="706.5" stroke="#333" stroke-width="1.1"/>
<line x1="389.8" y1="697.1" x2="389.8" y2="706.5" stroke="#333" stroke-width="1.1"/>
<line x1="433.3" y1="697.1" x2="433.3" y2="706.5" stroke="#333" stroke-width="1.1"/>
<text x="236.5" y="725.5" font-size="16" text-anchor="start" fill="#1a1a1a" stroke="#1a1a1a" stroke-width="0.25" font-weight="normal" >Hemin (mM)</text>
<text x="345.8" y="725.5" font-size="16" text-anchor="middle" fill="#1a1a1a" stroke="#1a1a1a" stroke-width="0.25" font-weight="normal" >0</text>
<text x="389.6" y="725.5" font-size="16" text-anchor="middle" fill="#1a1a1a" stroke="#1a1a1a" stroke-width="0.25" font-weight="normal" >10</text>
<text x="434.5" y="725.5" font-size="16" text-anchor="middle" fill="#1a1a1a" stroke="#1a1a1a" stroke-width="0.25" font-weight="normal" >40</text>
<text transform="translate(249.2,630.6) rotate(-90)" font-size="16.3" text-anchor="middle" fill="#1a1a1a" stroke="#1a1a1a" stroke-width="0.25" >Luciferase activity</text>
<text transform="translate(269.1,626.6) rotate(-90)" font-size="16.3" text-anchor="middle" fill="#1a1a1a" stroke="#1a1a1a" stroke-width="0.25" >(Cell viability)</text>
<polyline points="345.4,611.2 389.8,668 433.3,662.3" fill="none" stroke="#f4c0bc" stroke-width="1.2"/>
<polyline points="345.4,611.2 389.8,597.8 433.3,615.2" fill="none" stroke="#8fb0e0" stroke-width="1.2"/>
<line x1="389.8" y1="584.1" x2="389.8" y2="611.9" stroke="#8fb0e0" stroke-width="1.1"/><line x1="385.3" y1="584.1" x2="394.3" y2="584.1" stroke="#8fb0e0" stroke-width="1.1"/><line x1="385.3" y1="611.9" x2="394.3" y2="611.9" stroke="#8fb0e0" stroke-width="1.1"/>
<line x1="433.3" y1="610.9" x2="433.3" y2="617.5" stroke="#8fb0e0" stroke-width="1.1"/><line x1="428.8" y1="610.9" x2="437.8" y2="610.9" stroke="#8fb0e0" stroke-width="1.1"/><line x1="428.8" y1="617.5" x2="437.8" y2="617.5" stroke="#8fb0e0" stroke-width="1.1"/>
<circle cx="389.8" cy="597.8" r="3.8" fill="#8fb0e0"/>
<circle cx="433.3" cy="615.2" r="3.8" fill="#8fb0e0"/>
<rect x="341.4" y="607.2" width="8" height="8" fill="#f4b8b8"/>
<rect x="385.8" y="664" width="8" height="8" fill="#f4b8b8"/>
<rect x="429.3" y="658.3" width="8" height="8" fill="#f4b8b8"/>
<text x="548.3" y="581.5" font-size="16" text-anchor="start" fill="#1a1a1a" stroke="#1a1a1a" stroke-width="0.25" font-weight="normal" >ROS</text>
<text x="559" y="618.6" font-size="16" text-anchor="middle" fill="#707070" stroke="#707070" stroke-width="0.25" font-weight="normal" >YAP-TEAD</text>
<text x="559" y="637.2" font-size="16" text-anchor="middle" fill="#707070" stroke="#707070" stroke-width="0.25" font-weight="normal" >suppression</text>
<text x="664.3" y="541" font-size="16" text-anchor="middle" fill="#707070" stroke="#707070" stroke-width="0.25" font-weight="normal" >Hemoglobin</text>
<text x="664.3" y="560" font-size="16" text-anchor="middle" fill="#707070" stroke="#707070" stroke-width="0.25" font-weight="normal" >expression</text>
<text x="738" y="627" font-size="16" text-anchor="middle" fill="#1a1a1a" stroke="#1a1a1a" stroke-width="0.25" font-weight="normal" >Anoikis</text>
<text x="738" y="645.2" font-size="16" text-anchor="middle" fill="#1a1a1a" stroke="#1a1a1a" stroke-width="0.25" font-weight="normal" >resistance</text>
<text x="523.3" y="715.6" font-size="16" text-anchor="start" fill="#1a1a1a" stroke="#1a1a1a" stroke-width="0.25" font-weight="normal" >Integrin - ECM dissociation</text>
<circle cx="607.9" cy="577.3" r="16.3" fill="url(#ring)" stroke="#5a4c4a" stroke-width="0.9"/>
<circle cx="607.9" cy="577.9" r="10.7" fill="url(#cell)"/>
<circle cx="607.9" cy="577.9" r="10.8" fill="url(#celltop)"/>
<circle cx="729.8" cy="564.3" r="15.5" fill="url(#ring)" stroke="#5a4c4a" stroke-width="0.9"/>
<circle cx="729.8" cy="564.9" r="10.2" fill="url(#cell)"/>
<circle cx="729.8" cy="564.9" r="10.2" fill="url(#celltop)"/>
<circle cx="762.2" cy="564.3" r="15.5" fill="url(#ring)" stroke="#5a4c4a" stroke-width="0.9"/>
<circle cx="762.2" cy="564.9" r="10.2" fill="url(#cell)"/>
<circle cx="762.2" cy="564.9" r="10.2" fill="url(#celltop)"/>
<circle cx="747.1" cy="587" r="15.5" fill="url(#ring)" stroke="#5a4c4a" stroke-width="0.9"/>
<circle cx="747.1" cy="587.6" r="10.2" fill="url(#cell)"/>
<circle cx="747.1" cy="587.6" r="10.2" fill="url(#celltop)"/>
<line x1="612" y1="652.3" x2="612" y2="604" stroke="#111" stroke-width="2"/><path d="M607,606 L612,597 L617,606 Z" fill="#111"/>
<line x1="630.5" y1="580.5" x2="703" y2="580.5" stroke="#111" stroke-width="2"/><path d="M701,575.5 L710,580.5 L701,585.5 Z" fill="#111"/>
<path d="M547.6,665.5 L562.0,662.2 L580.0,660.5 L602.0,661.0 L622.0,664.0 L610.0,670.0 L596.0,675.5 L578.0,672.0 L562.0,668.8Z" fill="#dbe5f1" stroke="#6c6c7c" stroke-width="0.7" stroke-linejoin="round"/>
<path d="M612.0,663.0 L630.0,658.5 L654.0,657.5 L679.7,661.6 L668.0,666.0 L654.0,670.8 L632.0,674.5Z" fill="#dbe5f1" stroke="#6c6c7c" stroke-width="0.7" stroke-linejoin="round"/>
<path d="M541.9,679.0 L556.0,676.0 L567.0,673.8 L588.0,672.0 L606.0,678.0 L596.0,683.0 L588.0,687.7 L567.0,685.9 L555.0,682.5Z" fill="#dbe5f1" stroke="#6c6c7c" stroke-width="0.7" stroke-linejoin="round"/>
<path d="M619.0,676.0 L640.0,672.0 L660.0,672.3 L675.8,675.1 L665.0,680.0 L653.7,686.0 L630.5,683.5Z" fill="#dbe5f1" stroke="#6c6c7c" stroke-width="0.7" stroke-linejoin="round"/>
<ellipse cx="582.3" cy="666.5" rx="5" ry="3" fill="#8eb0d6" fill-opacity="0.85"/>
<ellipse cx="646.9" cy="665.1" rx="5" ry="3" fill="#8eb0d6" fill-opacity="0.85"/>
<ellipse cx="576.6" cy="681" rx="6" ry="3.5" fill="#8eb0d6" fill-opacity="0.85"/>
<ellipse cx="643" cy="679" rx="6" ry="3.5" fill="#8eb0d6" fill-opacity="0.85"/>
<path d="M578.5,670.3 L595,666 L609.3,663.4 L645,667.4 L632,673.5 L619,679 L598,675.5Z" fill="#fbd6b6" stroke="#d8504e" stroke-width="0.9" stroke-linejoin="round"/>
<ellipse cx="614.2" cy="671.3" rx="6.3" ry="4.3" fill="#e8683a"/>
<ellipse cx="616" cy="670" rx="2" ry="1.2" fill="#f4a070"/>
</svg>
</body></html>
